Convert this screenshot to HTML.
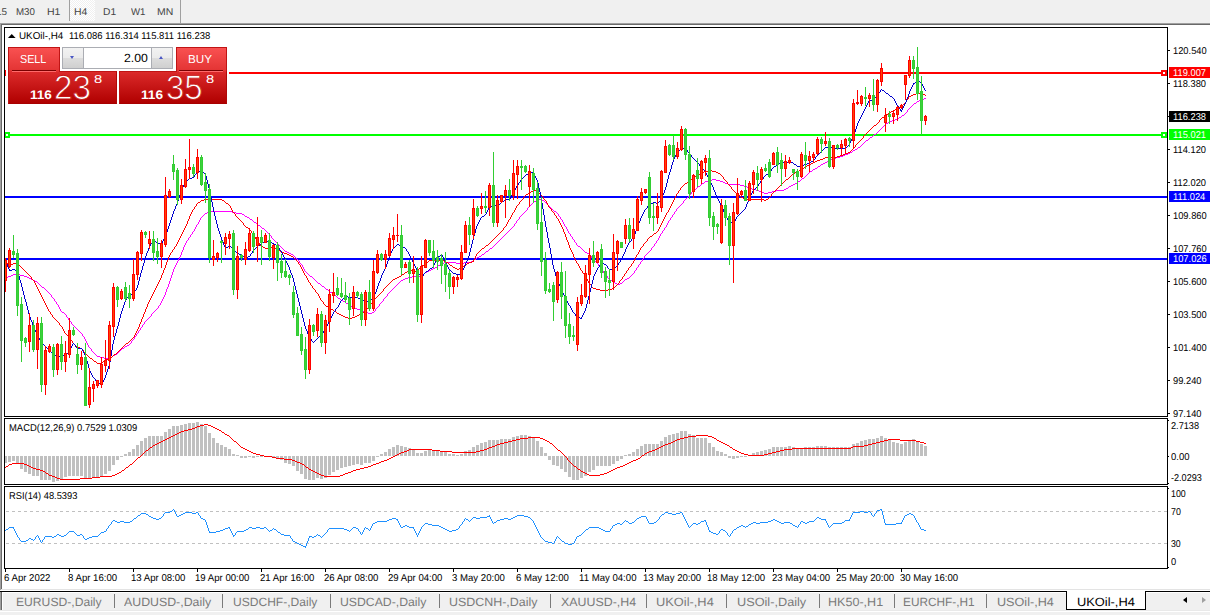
<!DOCTYPE html>
<html>
<head>
<meta charset="utf-8">
<title>UKOil-,H4</title>
<style>
html,body{margin:0;padding:0;}
body{width:1210px;height:615px;overflow:hidden;background:#f0f0f0;position:relative;font-family:"Liberation Sans", sans-serif;}
.abs{position:absolute;}
.t{position:absolute;white-space:nowrap;line-height:1;transform-origin:0 50%;text-rendering:geometricPrecision;}
#toolbar{left:0;top:0;width:1210px;height:23px;background:#f0f0f0;}
#tb-sep1{left:69px;top:0;width:1px;height:21px;background:#a0a0a0;}
#tb-h4{left:70px;top:0;width:25px;height:21px;background:conic-gradient(#ffffff 25%,#f0f0f0 0 50%,#ffffff 0 75%,#f0f0f0 0) 0 0/2px 2px;}
#tb-sep2{left:180px;top:0;width:1px;height:23px;background:#a0a0a0;}
#edge-t1{left:0;top:23px;width:1210px;height:1px;background:#a0a0a0;}
#edge-t2{left:1px;top:24px;width:1209px;height:1px;background:#696969;}
#edge-l1{left:0;top:23px;width:1px;height:567px;background:#a0a0a0;}
#edge-l2{left:1px;top:24px;width:1px;height:565px;background:#696969;}
#client{left:2px;top:25px;width:1208px;height:564px;background:#fff;}
#edge-b1{left:1px;top:589px;width:1209px;height:1px;background:#e3e3e3;}
#edge-b2{left:0;top:590px;width:1210px;height:1px;background:#fff;}
#tab-line-a{left:0;top:591px;width:1067px;height:1px;background:#000;}
#tab-line-b{left:1145px;top:591px;width:65px;height:1px;background:#000;}
#tabbar{left:0;top:592px;width:1210px;height:18px;background:#f0f0f0;}
#tab-l1{left:0;top:592px;width:1px;height:18px;background:#a0a0a0;}
#tab-l2{left:1px;top:592px;width:1px;height:18px;background:#696969;}
#tab-l3{left:2px;top:592px;width:1px;height:18px;background:#fff;}
#tab-t{left:2px;top:592px;width:1208px;height:1px;background:#fff;}
#tab-b1{left:0;top:610px;width:1210px;height:1px;background:#e9e9e9;}
#tab-b2{left:0;top:611px;width:1210px;height:1px;background:#fff;}
.tsep{position:absolute;top:594px;width:1px;height:14px;background:#7a7a7a;}
#tab-active{left:1066px;top:591px;width:78px;height:18px;background:#fff;border:1px solid #000;border-top:none;}
#arr-l{left:1183px;top:597px;width:0;height:0;border-top:3.5px solid transparent;border-bottom:3.5px solid transparent;border-right:4px solid #000;}
#arr-r{left:1202px;top:597px;width:0;height:0;border-top:3.5px solid transparent;border-bottom:3.5px solid transparent;border-left:4px solid #a0a0a0;}
svg{position:absolute;left:0;top:0;}
/* one click trading panel */
#panel-bg{left:6px;top:45px;width:223px;height:61px;background:#fff;}
.btn{position:absolute;box-sizing:border-box;border:1px solid #c01414;}
#sell-top{left:8px;top:47px;width:52px;height:25px;background:linear-gradient(#f95151,#e23232);border-bottom:none;}
#buy-top{left:176px;top:47px;width:51px;height:25px;background:linear-gradient(#f95151,#e23232);border-bottom:none;}
#sell-low{left:8px;top:71px;width:109px;height:33px;background:linear-gradient(#db2a2a,#b00000);border-color:#c01414 #b00808 #a80000 #c01414;}
#buy-low{left:119px;top:71px;width:108px;height:33px;background:linear-gradient(#db2a2a,#b00000);border-color:#c01414 #b00808 #a80000 #c01414;}
#sell-join{left:9px;top:71px;width:50px;height:1px;background:#e03030;}
#buy-join{left:177px;top:71px;width:49px;height:1px;background:#e03030;}
.uline{position:absolute;height:1px;background:#7a0000;}
.uline2{position:absolute;height:1px;background:#ff6a6a;}
#spin{left:62px;top:47px;width:111px;height:22px;box-sizing:border-box;border:1px solid #abadb3;background:#fff;}
.sbtn{position:absolute;top:48px;width:20px;height:20px;background:linear-gradient(#f2f2f2 0%,#ebebeb 48%,#dddddd 52%,#cfcfcf 100%);}
#sdn{left:63px;border-right:1px solid #abadb3;}
#sup{left:151px;border-left:1px solid #abadb3;}
#adn{left:70px;top:56px;width:0;height:0;border-left:2.5px solid transparent;border-right:2.5px solid transparent;border-top:3px solid #4a57c4;}
#aup{left:159px;top:56px;width:0;height:0;border-left:2.5px solid transparent;border-right:2.5px solid transparent;border-bottom:3px solid #4a57c4;}
</style>
</head>
<body>
<div id="toolbar" class="abs"></div>
<div id="tb-h4" class="abs"></div>
<div id="tb-sep1" class="abs"></div>
<div id="tb-sep2" class="abs"></div>
<div id="client" class="abs"></div>
<div id="edge-t1" class="abs"></div>
<div id="edge-t2" class="abs"></div>
<div id="edge-l1" class="abs"></div>
<div id="edge-l2" class="abs"></div>
<div id="edge-b1" class="abs"></div>
<div id="edge-b2" class="abs"></div>
<div id="tabbar" class="abs"></div>
<div id="tab-t" class="abs"></div>
<div id="tab-l1" class="abs"></div>
<div id="tab-l2" class="abs"></div>
<div id="tab-l3" class="abs"></div>
<div id="tab-b1" class="abs"></div>
<div id="tab-b2" class="abs"></div>
<div id="tab-line-a" class="abs"></div>
<div id="tab-line-b" class="abs"></div>
<div id="tab-active" class="abs"></div>
<div id="arr-l" class="abs"></div>
<div id="arr-r" class="abs"></div>
<div class="tsep" style="left:114px"></div><div class="tsep" style="left:222px"></div><div class="tsep" style="left:330px"></div><div class="tsep" style="left:439px"></div><div class="tsep" style="left:550px"></div><div class="tsep" style="left:646px"></div><div class="tsep" style="left:726px"></div><div class="tsep" style="left:819px"></div><div class="tsep" style="left:894px"></div><div class="tsep" style="left:986px"></div>
<svg width="1210" height="615" viewBox="0 0 1210 615" shape-rendering="crispEdges">
<rect x="5" y="72" width="1162" height="2" fill="#ff0000"/>
<rect x="5" y="134" width="1162" height="2" fill="#00ff00"/>
<rect x="5" y="196" width="1162" height="2" fill="#0000ff"/>
<rect x="5" y="258" width="1162" height="2" fill="#0000ff"/>
<rect x="1161" y="70" width="6" height="6" fill="#ff0000"/>
<rect x="1163" y="72" width="2" height="2" fill="#ffffff"/>
<rect x="1161" y="132" width="6" height="6" fill="#00ff00"/>
<rect x="1163" y="134" width="2" height="2" fill="#ffffff"/>
<rect x="4" y="132" width="6" height="6" fill="#00ff00"/>
<rect x="6" y="134" width="2" height="2" fill="#ffffff"/>
<rect x="4" y="70" width="2" height="6" fill="#ff0000"/>
<path d="M51.5 295v2M54.5 299v2M56.5 302v2M58.5 305v2M59.5 307v2M60.5 309v2M66.5 315v2M68.5 318v2M71.5 322v2M82.5 334v2M84.5 337v2M85.5 339v2M86.5 341v2M87.5 343v2M88.5 345v2M91.5 349v2M131.5 341v2M134.5 337v2M136.5 334v2M138.5 331v2M140.5 328v2M142.5 325v2M144.5 322v2M151.5 314v2M158.5 306v2M160.5 303v2M161.5 301v2M162.5 299v2M163.5 297v2M164.5 295v2M165.5 292v3M166.5 289v3M167.5 287v2M168.5 284v3M169.5 281v3M170.5 278v3M171.5 275v3M172.5 272v3M173.5 269v3M174.5 267v2M175.5 265v2M176.5 263v2M177.5 261v2M178.5 259v2M179.5 257v2M180.5 255v2M181.5 252v3M182.5 250v2M183.5 247v3M184.5 245v2M185.5 243v2M186.5 241v2M188.5 238v2M190.5 235v2M192.5 232v2M194.5 229v2M195.5 227v2M196.5 225v2M198.5 222v2M199.5 220v2M200.5 218v2M271.5 236v2M299.5 261v2M302.5 265v2M303.5 267v2M304.5 269v2M375.5 309v2M379.5 304v2M383.5 299v2M387.5 294v2M514.5 224v2M516.5 221v2M519.5 217v2M527.5 208v2M558.5 214v2M560.5 217v2M562.5 220v2M563.5 222v2M564.5 224v2M566.5 227v2M567.5 229v2M568.5 231v2M570.5 234v2M572.5 237v2M574.5 240v2M576.5 243v2M591.5 256v2M598.5 264v2M600.5 267v2M603.5 271v2M607.5 276v2M634.5 271v2M636.5 268v2M638.5 265v2M640.5 262v2M642.5 259v2M644.5 256v2M651.5 248v2M654.5 244v2M656.5 241v2M658.5 238v2M659.5 236v2M660.5 234v2M662.5 231v2M664.5 228v2M666.5 225v2M667.5 223v2M668.5 221v2M670.5 218v2M672.5 215v2M674.5 212v2M676.5 209v2M683.5 201v2M691.5 192v2M907.5 110v2M924 98.5h2M921 99.5h3M919 100.5h2M917 101.5h2M916 102.5h1M914 103.5h2M913 104.5h1M912 105.5h1M911 106.5h1M910 107.5h1M909 108.5h1M908 109.5h1M906 112.5h1M905 113.5h1M904 114.5h1M902 115.5h2M901 116.5h1M899 117.5h2M897 118.5h2M895 119.5h2M892 120.5h3M889 121.5h3M888 122.5h1M886 123.5h2M885 124.5h1M884 125.5h1M883 126.5h1M882 127.5h1M881 128.5h1M880 129.5h1M879 130.5h1M878 131.5h1M877 132.5h1M876 133.5h1M874 134.5h2M873 135.5h1M872 136.5h1M870 137.5h2M869 138.5h1M868 139.5h1M866 140.5h2M865 141.5h1M864 142.5h1M863 143.5h1M862 144.5h1M861 145.5h1M860 146.5h1M858 147.5h2M857 148.5h1M855 149.5h2M853 150.5h2M852 151.5h1M850 152.5h2M848 153.5h2M845 154.5h3M843 155.5h2M840 156.5h3M836 157.5h4M833 158.5h3M831 159.5h2M829 160.5h2M827 161.5h2M825 162.5h2M823 163.5h2M821 164.5h2M820 165.5h1M818 166.5h2M817 167.5h1M815 168.5h2M813 169.5h2M812 170.5h1M810 171.5h2M809 172.5h1M808 173.5h1M807 174.5h1M806 175.5h1M805 176.5h1M804 177.5h1M802 178.5h2M712 179.5h4M801 179.5h1M708 180.5h4M716 180.5h4M800 180.5h1M705 181.5h3M720 181.5h3M798 181.5h2M704 182.5h1M723 182.5h2M797 182.5h1M702 183.5h2M725 183.5h3M795 183.5h2M701 184.5h1M728 184.5h12M793 184.5h2M700 185.5h1M740 185.5h4M791 185.5h2M698 186.5h2M744 186.5h3M789 186.5h2M697 187.5h1M747 187.5h2M788 187.5h1M696 188.5h1M749 188.5h3M786 188.5h2M694 189.5h2M752 189.5h4M784 189.5h2M693 190.5h1M756 190.5h3M776 190.5h8M692 191.5h1M759 191.5h2M772 191.5h4M761 192.5h3M768 192.5h4M764 193.5h4M690 194.5h1M689 195.5h1M688 196.5h1M687 197.5h1M686 198.5h1M537 199.5h5M685 199.5h1M536 200.5h1M542 200.5h2M684 200.5h1M534 201.5h2M544 201.5h1M533 202.5h1M545 202.5h1M532 203.5h1M546 203.5h1M682 203.5h1M531 204.5h1M547 204.5h1M681 204.5h1M530 205.5h1M548 205.5h1M680 205.5h1M529 206.5h1M549 206.5h1M679 206.5h1M528 207.5h1M550 207.5h1M678 207.5h1M551 208.5h1M677 208.5h1M552 209.5h1M526 210.5h1M553 210.5h1M209 211.5h23M525 211.5h1M554 211.5h2M675 211.5h1M207 212.5h2M232 212.5h4M524 212.5h1M556 212.5h1M205 213.5h2M236 213.5h6M523 213.5h1M557 213.5h1M204 214.5h1M242 214.5h2M522 214.5h1M673 214.5h1M203 215.5h1M244 215.5h1M521 215.5h1M202 216.5h1M245 216.5h2M520 216.5h1M559 216.5h1M201 217.5h1M247 217.5h2M671 217.5h1M249 218.5h1M250 219.5h2M518 219.5h1M561 219.5h1M252 220.5h1M517 220.5h1M669 220.5h1M253 221.5h1M254 222.5h2M256 223.5h1M515 223.5h1M197 224.5h1M257 224.5h1M258 225.5h2M260 226.5h1M513 226.5h1M565 226.5h1M261 227.5h1M512 227.5h1M665 227.5h1M262 228.5h2M511 228.5h1M264 229.5h1M510 229.5h1M265 230.5h1M509 230.5h1M663 230.5h1M193 231.5h1M266 231.5h1M508 231.5h1M267 232.5h1M507 232.5h1M268 233.5h1M506 233.5h1M569 233.5h1M661 233.5h1M191 234.5h1M269 234.5h1M505 234.5h1M270 235.5h1M504 235.5h1M503 236.5h1M571 236.5h1M189 237.5h1M502 237.5h1M272 238.5h1M501 238.5h1M273 239.5h1M500 239.5h1M573 239.5h1M187 240.5h1M274 240.5h1M499 240.5h1M657 240.5h1M275 241.5h1M498 241.5h1M276 242.5h1M497 242.5h1M575 242.5h1M277 243.5h1M496 243.5h1M655 243.5h1M278 244.5h1M495 244.5h1M279 245.5h1M494 245.5h1M577 245.5h1M280 246.5h1M493 246.5h1M578 246.5h2M653 246.5h1M281 247.5h1M492 247.5h1M580 247.5h1M652 247.5h1M282 248.5h1M490 248.5h2M581 248.5h1M283 249.5h1M489 249.5h1M582 249.5h1M284 250.5h1M488 250.5h1M583 250.5h1M650 250.5h1M285 251.5h2M486 251.5h2M584 251.5h1M649 251.5h1M287 252.5h2M485 252.5h1M585 252.5h2M648 252.5h1M289 253.5h2M484 253.5h1M587 253.5h2M647 253.5h1M291 254.5h2M482 254.5h2M589 254.5h1M646 254.5h1M293 255.5h1M481 255.5h1M590 255.5h1M645 255.5h1M294 256.5h1M479 256.5h2M295 257.5h1M477 257.5h2M296 258.5h1M476 258.5h1M592 258.5h1M643 258.5h1M297 259.5h1M474 259.5h2M593 259.5h1M298 260.5h1M473 260.5h1M594 260.5h1M471 261.5h2M595 261.5h1M641 261.5h1M444 262.5h12M464 262.5h7M596 262.5h1M300 263.5h1M441 263.5h3M456 263.5h8M597 263.5h1M301 264.5h1M440 264.5h1M639 264.5h1M438 265.5h2M437 266.5h1M599 266.5h1M435 267.5h2M637 267.5h1M433 268.5h2M431 269.5h2M601 269.5h1M429 270.5h2M602 270.5h1M635 270.5h1M305 271.5h1M427 271.5h2M306 272.5h1M425 272.5h2M307 273.5h1M424 273.5h1M604 273.5h1M633 273.5h1M13 274.5h7M308 274.5h1M422 274.5h2M605 274.5h1M632 274.5h1M11 275.5h2M20 275.5h4M309 275.5h1M420 275.5h2M606 275.5h1M631 275.5h1M8 276.5h3M24 276.5h3M310 276.5h2M412 276.5h8M630 276.5h1M5 277.5h3M27 277.5h2M312 277.5h1M408 277.5h4M629 277.5h1M29 278.5h2M313 278.5h1M405 278.5h3M608 278.5h1M627 278.5h2M31 279.5h2M314 279.5h1M403 279.5h2M609 279.5h1M625 279.5h2M33 280.5h2M315 280.5h1M401 280.5h2M610 280.5h2M624 280.5h1M35 281.5h2M316 281.5h1M400 281.5h1M612 281.5h1M623 281.5h1M37 282.5h1M317 282.5h1M399 282.5h1M613 282.5h2M622 282.5h1M38 283.5h1M318 283.5h2M398 283.5h1M615 283.5h2M620 283.5h2M39 284.5h1M320 284.5h1M397 284.5h1M617 284.5h3M40 285.5h1M321 285.5h1M396 285.5h1M41 286.5h1M322 286.5h2M395 286.5h1M42 287.5h2M324 287.5h1M394 287.5h1M44 288.5h1M325 288.5h1M393 288.5h1M45 289.5h1M326 289.5h2M392 289.5h1M46 290.5h1M328 290.5h1M391 290.5h1M47 291.5h1M329 291.5h1M390 291.5h1M48 292.5h1M330 292.5h2M389 292.5h1M49 293.5h1M332 293.5h1M388 293.5h1M50 294.5h1M333 294.5h1M334 295.5h2M336 296.5h1M386 296.5h1M52 297.5h1M337 297.5h1M385 297.5h1M53 298.5h1M338 298.5h2M384 298.5h1M340 299.5h1M341 300.5h2M55 301.5h1M343 301.5h2M382 301.5h1M345 302.5h1M381 302.5h1M346 303.5h2M380 303.5h1M57 304.5h1M348 304.5h1M159 305.5h1M349 305.5h2M351 306.5h2M378 306.5h1M353 307.5h2M377 307.5h1M157 308.5h1M355 308.5h2M376 308.5h1M156 309.5h1M357 309.5h3M155 310.5h1M360 310.5h3M61 311.5h1M154 311.5h1M363 311.5h2M374 311.5h1M62 312.5h2M153 312.5h1M365 312.5h3M372 312.5h2M64 313.5h1M152 313.5h1M368 313.5h4M65 314.5h1M150 316.5h1M67 317.5h1M149 317.5h1M148 318.5h1M147 319.5h1M69 320.5h1M146 320.5h1M70 321.5h1M145 321.5h1M72 324.5h1M143 324.5h1M73 325.5h1M74 326.5h1M75 327.5h1M141 327.5h1M76 328.5h1M77 329.5h1M78 330.5h1M139 330.5h1M79 331.5h1M80 332.5h1M81 333.5h1M137 333.5h1M83 336.5h1M135 336.5h1M133 339.5h1M132 340.5h1M130 343.5h1M129 344.5h1M127 345.5h2M125 346.5h2M89 347.5h1M124 347.5h1M90 348.5h1M122 348.5h2M121 349.5h1M120 350.5h1M92 351.5h1M119 351.5h1M93 352.5h1M118 352.5h1M94 353.5h1M117 353.5h1M95 354.5h1M115 354.5h2M96 355.5h1M113 355.5h2M97 356.5h3M112 356.5h1M100 357.5h4M110 357.5h2M104 358.5h6" fill="none" stroke="#ff00ff" stroke-width="1"/>
<path d="M31.5 277v2M34.5 281v2M35.5 283v2M36.5 285v2M37.5 287v2M38.5 289v2M39.5 291v2M40.5 293v2M41.5 295v2M42.5 297v2M43.5 299v2M44.5 301v2M45.5 303v2M46.5 305v2M47.5 307v2M48.5 309v2M50.5 312v2M52.5 315v2M59.5 323v2M62.5 327v2M63.5 329v2M64.5 331v2M70.5 338v2M72.5 341v2M83.5 350v2M134.5 335v2M135.5 333v2M136.5 331v2M137.5 329v2M138.5 327v2M139.5 324v3M140.5 322v2M141.5 319v3M142.5 317v2M143.5 314v3M144.5 312v2M145.5 309v3M146.5 307v2M147.5 304v3M148.5 302v2M149.5 300v2M150.5 298v2M151.5 296v2M152.5 294v2M153.5 292v2M154.5 290v2M155.5 288v2M156.5 286v2M157.5 284v2M158.5 282v2M159.5 280v2M160.5 278v2M161.5 275v3M162.5 273v2M163.5 270v3M164.5 268v2M165.5 265v3M166.5 262v3M167.5 260v2M168.5 257v3M169.5 255v2M170.5 253v2M172.5 250v2M174.5 247v2M176.5 244v2M177.5 242v2M178.5 240v2M179.5 238v2M180.5 236v2M181.5 234v2M182.5 232v2M183.5 230v2M184.5 228v2M185.5 226v2M186.5 224v2M187.5 221v3M188.5 219v2M189.5 216v3M190.5 214v2M191.5 212v2M192.5 210v2M194.5 207v2M196.5 204v2M230.5 206v2M231.5 208v2M232.5 210v2M235.5 214v2M243.5 223v2M251.5 231v2M254.5 235v2M255.5 237v2M256.5 239v2M259.5 243v2M298.5 262v2M300.5 265v2M301.5 267v2M302.5 269v2M303.5 271v2M304.5 273v2M306.5 276v2M307.5 278v2M308.5 280v2M310.5 283v2M312.5 286v2M315.5 290v2M318.5 294v2M319.5 296v2M320.5 298v2M323.5 302v2M370.5 304v2M372.5 301v2M383.5 289v2M473.5 260v2M474.5 258v2M475.5 256v2M476.5 254v2M503.5 228v2M506.5 224v2M507.5 222v2M508.5 220v2M510.5 217v2M511.5 215v2M512.5 213v2M514.5 210v2M515.5 208v2M516.5 206v2M519.5 202v2M523.5 197v2M543.5 197v2M546.5 201v2M547.5 203v2M548.5 205v2M551.5 209v2M554.5 213v2M556.5 216v2M558.5 219v2M559.5 221v2M560.5 223v2M561.5 225v2M562.5 227v2M563.5 229v3M564.5 232v2M565.5 234v3M566.5 237v3M567.5 240v2M568.5 242v3M569.5 245v3M570.5 248v2M571.5 250v2M572.5 252v2M573.5 254v3M574.5 257v2M575.5 259v2M576.5 261v2M578.5 264v2M579.5 266v2M580.5 268v2M582.5 271v2M584.5 274v2M586.5 277v2M587.5 279v2M588.5 281v2M591.5 285v2M619.5 281v2M622.5 277v2M624.5 274v2M626.5 271v2M628.5 268v2M631.5 264v2M633.5 261v2M634.5 259v2M635.5 257v2M636.5 255v2M638.5 252v2M639.5 250v2M640.5 248v2M643.5 244v2M647.5 239v2M658.5 229v2M659.5 227v2M660.5 225v2M661.5 223v2M662.5 221v2M663.5 219v2M664.5 217v2M665.5 215v2M666.5 213v2M668.5 210v2M669.5 208v2M670.5 206v2M671.5 204v2M672.5 202v2M673.5 200v2M674.5 198v2M675.5 196v2M676.5 194v2M678.5 191v2M680.5 188v2M723.5 177v2M727.5 182v2M731.5 187v2M771.5 194v2M855.5 145v2M863.5 136v2M879.5 120v2M906.5 100v2M908.5 97v2M916 93.5h7M913 94.5h3M923 94.5h2M911 95.5h2M925 95.5h1M909 96.5h2M907 99.5h1M905 102.5h1M904 103.5h1M903 104.5h1M902 105.5h1M901 106.5h1M899 107.5h2M897 108.5h2M895 109.5h2M893 110.5h2M891 111.5h2M889 112.5h2M888 113.5h1M886 114.5h2M885 115.5h1M884 116.5h1M882 117.5h2M881 118.5h1M880 119.5h1M878 122.5h1M877 123.5h1M876 124.5h1M874 125.5h2M873 126.5h1M872 127.5h1M871 128.5h1M870 129.5h1M869 130.5h1M868 131.5h1M867 132.5h1M866 133.5h1M865 134.5h1M864 135.5h1M862 138.5h1M861 139.5h1M860 140.5h1M859 141.5h1M858 142.5h1M857 143.5h1M856 144.5h1M854 147.5h1M853 148.5h1M852 149.5h1M851 150.5h1M850 151.5h1M848 152.5h2M845 153.5h3M843 154.5h2M840 155.5h3M837 156.5h3M825 157.5h7M835 157.5h2M823 158.5h2M832 158.5h3M820 159.5h3M817 160.5h3M815 161.5h2M813 162.5h2M811 163.5h2M809 164.5h2M807 165.5h2M805 166.5h2M804 167.5h1M802 168.5h2M801 169.5h1M708 170.5h4M799 170.5h2M704 171.5h4M712 171.5h4M797 171.5h2M701 172.5h3M716 172.5h2M795 172.5h2M700 173.5h1M718 173.5h2M793 173.5h2M698 174.5h2M720 174.5h1M792 174.5h1M697 175.5h1M721 175.5h1M791 175.5h1M695 176.5h2M722 176.5h1M790 176.5h1M693 177.5h2M789 177.5h1M692 178.5h1M788 178.5h1M691 179.5h1M724 179.5h1M786 179.5h2M690 180.5h1M725 180.5h1M785 180.5h1M689 181.5h1M726 181.5h1M784 181.5h1M687 182.5h2M783 182.5h1M685 183.5h2M782 183.5h1M684 184.5h1M728 184.5h1M781 184.5h1M683 185.5h1M729 185.5h1M780 185.5h1M682 186.5h1M730 186.5h1M779 186.5h1M681 187.5h1M778 187.5h1M777 188.5h1M732 189.5h1M776 189.5h1M533 190.5h3M679 190.5h1M733 190.5h1M775 190.5h1M531 191.5h2M536 191.5h2M734 191.5h1M774 191.5h1M529 192.5h2M538 192.5h1M735 192.5h1M773 192.5h1M528 193.5h1M539 193.5h1M677 193.5h1M736 193.5h1M772 193.5h1M526 194.5h2M540 194.5h1M737 194.5h1M525 195.5h1M541 195.5h1M738 195.5h2M524 196.5h1M542 196.5h1M740 196.5h1M770 196.5h1M741 197.5h2M769 197.5h1M743 198.5h2M768 198.5h1M204 199.5h18M522 199.5h1M544 199.5h1M745 199.5h19M766 199.5h2M201 200.5h3M222 200.5h2M521 200.5h1M545 200.5h1M764 200.5h2M200 201.5h1M224 201.5h1M520 201.5h1M198 202.5h2M225 202.5h1M197 203.5h1M226 203.5h2M228 204.5h1M518 204.5h1M229 205.5h1M517 205.5h1M195 206.5h1M549 207.5h1M550 208.5h1M193 209.5h1M552 211.5h1M233 212.5h1M513 212.5h1M553 212.5h1M667 212.5h1M234 213.5h1M555 215.5h1M236 216.5h1M237 217.5h1M238 218.5h1M557 218.5h1M239 219.5h1M509 219.5h1M240 220.5h1M241 221.5h1M242 222.5h1M244 225.5h1M245 226.5h1M505 226.5h1M246 227.5h2M504 227.5h1M248 228.5h1M249 229.5h1M250 230.5h1M502 230.5h1M501 231.5h1M657 231.5h1M500 232.5h1M656 232.5h1M252 233.5h1M499 233.5h1M654 233.5h2M253 234.5h1M498 234.5h1M653 234.5h1M497 235.5h1M652 235.5h1M496 236.5h1M650 236.5h2M495 237.5h1M649 237.5h1M494 238.5h1M648 238.5h1M493 239.5h1M492 240.5h1M257 241.5h1M491 241.5h1M646 241.5h1M258 242.5h1M490 242.5h1M645 242.5h1M489 243.5h1M644 243.5h1M488 244.5h1M260 245.5h1M486 245.5h2M175 246.5h1M261 246.5h2M485 246.5h1M642 246.5h1M263 247.5h2M268 247.5h7M484 247.5h1M641 247.5h1M265 248.5h3M275 248.5h2M482 248.5h2M173 249.5h1M277 249.5h1M481 249.5h1M278 250.5h2M480 250.5h1M280 251.5h1M479 251.5h1M171 252.5h1M281 252.5h3M478 252.5h1M284 253.5h3M477 253.5h1M287 254.5h2M637 254.5h1M289 255.5h2M291 256.5h2M293 257.5h1M294 258.5h1M295 259.5h1M296 260.5h1M429 260.5h15M297 261.5h1M428 261.5h1M444 261.5h2M472 261.5h1M5 262.5h1M426 262.5h2M446 262.5h2M469 262.5h3M6 263.5h2M13 263.5h5M425 263.5h1M448 263.5h1M467 263.5h2M577 263.5h1M632 263.5h1M8 264.5h1M11 264.5h2M18 264.5h1M299 264.5h1M424 264.5h1M449 264.5h1M465 264.5h2M9 265.5h2M19 265.5h1M422 265.5h2M450 265.5h2M464 265.5h1M20 266.5h1M421 266.5h1M452 266.5h1M462 266.5h2M630 266.5h1M21 267.5h1M420 267.5h1M453 267.5h2M461 267.5h1M629 267.5h1M22 268.5h1M419 268.5h1M455 268.5h2M459 268.5h2M23 269.5h1M418 269.5h1M457 269.5h2M24 270.5h1M409 270.5h3M416 270.5h2M581 270.5h1M627 270.5h1M25 271.5h1M407 271.5h2M412 271.5h4M26 272.5h1M405 272.5h2M27 273.5h1M404 273.5h1M583 273.5h1M625 273.5h1M28 274.5h1M402 274.5h2M29 275.5h1M305 275.5h1M401 275.5h1M30 276.5h1M399 276.5h2M585 276.5h1M623 276.5h1M397 277.5h2M395 278.5h2M32 279.5h1M393 279.5h2M621 279.5h1M33 280.5h1M392 280.5h1M620 280.5h1M391 281.5h1M309 282.5h1M390 282.5h1M389 283.5h1M589 283.5h1M618 283.5h1M388 284.5h1M590 284.5h1M617 284.5h1M311 285.5h1M387 285.5h1M616 285.5h1M386 286.5h1M615 286.5h1M385 287.5h1M592 287.5h1M614 287.5h1M313 288.5h1M384 288.5h1M593 288.5h3M612 288.5h2M314 289.5h1M596 289.5h4M608 289.5h4M600 290.5h8M382 291.5h1M316 292.5h1M381 292.5h1M317 293.5h1M380 293.5h1M379 294.5h1M378 295.5h1M377 296.5h1M376 297.5h1M375 298.5h1M374 299.5h1M321 300.5h1M373 300.5h1M322 301.5h1M371 303.5h1M324 304.5h1M325 305.5h1M326 306.5h2M369 306.5h1M328 307.5h1M368 307.5h1M329 308.5h2M367 308.5h1M331 309.5h2M366 309.5h1M333 310.5h1M365 310.5h1M49 311.5h1M334 311.5h2M364 311.5h1M336 312.5h1M362 312.5h2M337 313.5h2M361 313.5h1M51 314.5h1M339 314.5h2M359 314.5h2M341 315.5h2M357 315.5h2M343 316.5h2M355 316.5h2M53 317.5h1M345 317.5h3M352 317.5h3M54 318.5h1M348 318.5h4M55 319.5h1M56 320.5h1M57 321.5h1M58 322.5h1M60 325.5h1M61 326.5h1M65 333.5h1M66 334.5h1M67 335.5h1M68 336.5h1M69 337.5h1M133 337.5h1M132 338.5h1M131 339.5h1M71 340.5h1M130 340.5h1M129 341.5h1M128 342.5h1M73 343.5h1M126 343.5h2M74 344.5h1M125 344.5h1M75 345.5h1M124 345.5h1M76 346.5h1M123 346.5h1M77 347.5h3M122 347.5h1M80 348.5h2M121 348.5h1M82 349.5h1M120 349.5h1M119 350.5h1M118 351.5h1M84 352.5h1M117 352.5h1M85 353.5h1M116 353.5h1M86 354.5h1M114 354.5h2M87 355.5h1M113 355.5h1M88 356.5h1M112 356.5h1M89 357.5h1M111 357.5h1M90 358.5h2M110 358.5h1M92 359.5h1M105 359.5h5M93 360.5h1M104 360.5h1M94 361.5h2M103 361.5h1M96 362.5h1M102 362.5h1M97 363.5h5" fill="none" stroke="#ff0000" stroke-width="1"/>
<path d="M5.5 260v2M6.5 262v2M7.5 264v3M8.5 267v2M9.5 269v2M17.5 271v2M18.5 273v3M19.5 276v4M20.5 280v3M21.5 283v4M22.5 287v4M23.5 291v4M24.5 295v4M25.5 299v3M26.5 302v4M27.5 306v4M28.5 310v4M29.5 314v3M30.5 317v3M31.5 320v2M32.5 322v3M33.5 325v3M34.5 328v2M35.5 330v2M36.5 332v2M37.5 334v2M38.5 336v2M39.5 338v2M40.5 340v2M41.5 342v2M69.5 350v2M70.5 348v2M71.5 346v2M72.5 344v2M75.5 345v2M82.5 349v2M83.5 351v2M84.5 353v2M85.5 355v2M86.5 357v4M87.5 361v3M88.5 364v4M89.5 368v3M90.5 371v2M91.5 373v2M92.5 375v2M95.5 379v2M101.5 384v2M102.5 382v2M103.5 380v2M104.5 378v2M105.5 375v3M106.5 372v3M107.5 369v3M108.5 366v3M109.5 362v4M110.5 356v6M111.5 350v6M112.5 344v6M113.5 340v4M114.5 336v4M115.5 333v3M116.5 329v4M117.5 326v3M118.5 322v4M119.5 318v4M120.5 314v4M121.5 311v3M122.5 308v3M123.5 305v3M124.5 302v3M125.5 300v2M126.5 298v2M128.5 295v2M134.5 291v2M136.5 288v2M137.5 285v3M138.5 281v4M139.5 277v4M140.5 273v4M141.5 270v3M142.5 266v4M143.5 263v3M144.5 259v4M145.5 256v3M146.5 253v3M147.5 251v2M148.5 248v3M149.5 246v2M150.5 244v2M152.5 241v2M162.5 241v2M163.5 239v2M164.5 237v2M165.5 235v2M166.5 232v3M167.5 229v3M168.5 226v3M169.5 223v3M170.5 220v3M171.5 217v3M172.5 214v3M173.5 211v3M174.5 209v2M175.5 206v3M176.5 204v2M177.5 201v3M178.5 198v3M179.5 195v3M180.5 192v3M181.5 189v3M182.5 187v2M183.5 185v2M184.5 183v2M194.5 175v2M196.5 172v2M205.5 174v2M206.5 176v4M207.5 180v4M208.5 184v4M209.5 188v4M210.5 192v5M211.5 197v5M212.5 202v5M213.5 207v5M214.5 212v4M215.5 216v4M216.5 220v4M217.5 224v4M218.5 228v3M219.5 231v3M220.5 234v3M221.5 237v3M222.5 240v2M223.5 242v3M224.5 245v2M225.5 247v2M250.5 254v2M252.5 251v2M279.5 248v2M281.5 251v2M282.5 253v2M283.5 255v2M284.5 257v2M285.5 259v2M286.5 261v2M287.5 263v2M288.5 265v2M289.5 267v3M290.5 270v3M291.5 273v2M292.5 275v3M293.5 278v4M294.5 282v4M295.5 286v4M296.5 290v4M297.5 294v4M298.5 298v4M299.5 302v4M300.5 306v4M301.5 310v4M302.5 314v4M303.5 318v4M304.5 322v4M305.5 326v3M306.5 329v2M307.5 331v3M308.5 334v2M309.5 336v2M311.5 339v2M323.5 331v2M325.5 328v2M326.5 326v2M327.5 324v2M328.5 322v2M329.5 320v2M330.5 318v2M331.5 316v2M332.5 314v2M333.5 312v2M335.5 309v2M338.5 305v2M339.5 303v2M340.5 301v2M373.5 297v2M374.5 294v3M375.5 292v2M376.5 289v3M377.5 286v3M378.5 283v3M379.5 281v2M380.5 278v3M381.5 275v3M382.5 273v2M383.5 271v2M384.5 269v2M385.5 267v2M386.5 264v3M387.5 261v3M388.5 258v3M389.5 255v3M390.5 253v2M391.5 251v2M392.5 249v2M406.5 249v2M408.5 252v2M409.5 254v2M410.5 256v2M411.5 258v2M412.5 260v2M413.5 262v2M414.5 264v2M415.5 266v2M416.5 268v2M417.5 270v2M418.5 272v2M420.5 275v2M423.5 274v2M433.5 265v2M434.5 263v2M435.5 261v2M436.5 259v2M437.5 257v2M442.5 255v2M443.5 257v2M444.5 259v2M445.5 261v2M446.5 263v2M447.5 265v2M448.5 267v2M461.5 272v2M462.5 270v2M463.5 268v2M464.5 266v2M465.5 263v3M466.5 261v2M467.5 258v3M468.5 256v2M469.5 252v4M470.5 248v4M471.5 244v4M472.5 240v4M473.5 236v4M474.5 233v3M475.5 229v4M476.5 226v3M477.5 224v2M478.5 222v2M479.5 220v2M480.5 218v2M486.5 212v2M487.5 210v2M488.5 208v2M510.5 197v2M511.5 195v2M512.5 193v2M514.5 190v2M515.5 188v2M516.5 186v2M518.5 183v2M520.5 180v2M533.5 172v2M534.5 174v2M535.5 176v2M536.5 178v2M537.5 180v3M538.5 183v5M539.5 188v4M540.5 192v5M541.5 197v6M542.5 203v6M543.5 209v6M544.5 215v6M545.5 221v6M546.5 227v5M547.5 232v6M548.5 238v5M549.5 243v5M550.5 248v6M551.5 254v5M552.5 259v6M553.5 265v4M554.5 269v3M555.5 272v4M556.5 276v3M557.5 279v3M558.5 282v2M559.5 284v2M560.5 286v2M561.5 288v3M562.5 291v2M563.5 293v2M564.5 295v2M565.5 297v2M566.5 299v2M567.5 301v2M568.5 303v2M570.5 306v2M571.5 308v2M572.5 310v2M575.5 314v2M581.5 317v2M582.5 315v2M583.5 313v2M584.5 311v2M585.5 308v3M586.5 304v4M587.5 300v4M588.5 296v4M589.5 292v4M590.5 288v4M591.5 284v4M592.5 280v4M593.5 276v4M594.5 274v2M595.5 272v2M596.5 270v2M597.5 268v2M599.5 265v2M607.5 266v2M618.5 263v2M620.5 260v2M621.5 258v2M622.5 256v2M623.5 254v2M624.5 252v2M625.5 249v3M626.5 247v2M627.5 245v2M628.5 243v2M631.5 239v2M633.5 236v2M634.5 234v2M635.5 231v3M636.5 229v2M637.5 226v3M638.5 223v3M639.5 221v2M640.5 218v3M641.5 216v2M642.5 214v2M643.5 212v2M644.5 210v2M647.5 206v2M661.5 198v2M662.5 195v3M663.5 193v2M664.5 190v3M665.5 187v3M666.5 183v4M667.5 179v4M668.5 175v4M669.5 172v3M670.5 169v3M671.5 165v4M672.5 162v3M673.5 159v3M674.5 157v2M675.5 155v2M676.5 153v2M687.5 150v2M691.5 155v2M699.5 164v2M705.5 171v2M706.5 173v2M707.5 175v2M708.5 177v2M709.5 179v2M710.5 181v2M711.5 183v2M712.5 185v2M713.5 187v3M714.5 190v2M715.5 192v3M716.5 195v2M717.5 197v2M718.5 199v2M719.5 201v2M720.5 203v2M721.5 205v2M722.5 207v2M723.5 209v3M724.5 212v2M725.5 214v2M726.5 216v2M727.5 218v2M728.5 220v2M734.5 221v2M735.5 219v2M736.5 217v2M745.5 207v2M746.5 204v3M747.5 202v2M748.5 199v3M749.5 197v2M750.5 195v2M751.5 193v2M752.5 191v2M758.5 184v2M760.5 181v2M763.5 177v2M771.5 169v2M815.5 157v2M849.5 143v2M850.5 141v2M851.5 139v2M852.5 137v2M853.5 135v2M854.5 132v3M855.5 129v3M856.5 126v3M857.5 123v3M858.5 121v2M859.5 119v2M860.5 117v2M861.5 115v2M862.5 113v2M863.5 111v2M864.5 109v2M865.5 107v2M866.5 105v2M867.5 103v2M868.5 101v2M878.5 93v2M880.5 90v2M894.5 99v2M895.5 101v2M896.5 103v2M898.5 106v2M900.5 109v2M901.5 110v2M902.5 108v2M903.5 106v2M904.5 104v2M905.5 102v2M906.5 99v3M907.5 97v2M908.5 94v3M909.5 91v3M910.5 89v2M911.5 87v2M912.5 85v2M913.5 83v2M921.5 82v2M922.5 84v2M923.5 86v2M924.5 88v2M917 81.5h3M915 82.5h2M920 82.5h1M914 83.5h1M881 89.5h1M882 90.5h2M925 90.5h1M884 91.5h1M879 92.5h1M885 92.5h1M886 93.5h2M888 94.5h1M877 95.5h1M889 95.5h1M876 96.5h1M890 96.5h2M875 97.5h1M892 97.5h1M874 98.5h1M893 98.5h1M872 99.5h2M869 100.5h3M897 105.5h1M899 108.5h1M848 145.5h1M847 146.5h1M825 147.5h7M846 147.5h1M681 148.5h5M824 148.5h1M832 148.5h14M680 149.5h1M686 149.5h1M823 149.5h1M679 150.5h1M822 150.5h1M678 151.5h1M821 151.5h1M677 152.5h1M688 152.5h1M820 152.5h1M689 153.5h1M819 153.5h1M690 154.5h1M818 154.5h1M817 155.5h1M816 156.5h1M692 157.5h1M693 158.5h1M694 159.5h1M814 159.5h1M695 160.5h1M813 160.5h1M696 161.5h1M788 161.5h3M811 161.5h2M697 162.5h1M781 162.5h7M791 162.5h2M809 162.5h2M698 163.5h1M779 163.5h2M793 163.5h1M807 163.5h2M777 164.5h2M794 164.5h2M804 164.5h3M776 165.5h1M796 165.5h1M800 165.5h4M700 166.5h1M774 166.5h2M797 166.5h3M701 167.5h1M773 167.5h1M702 168.5h1M772 168.5h1M703 169.5h1M200 170.5h2M704 170.5h1M197 171.5h3M202 171.5h1M770 171.5h1M203 172.5h1M529 172.5h4M769 172.5h1M204 173.5h1M528 173.5h1M768 173.5h1M195 174.5h1M526 174.5h2M766 174.5h2M525 175.5h1M765 175.5h1M524 176.5h1M764 176.5h1M192 177.5h2M523 177.5h1M189 178.5h3M522 178.5h1M188 179.5h1M521 179.5h1M762 179.5h1M187 180.5h1M761 180.5h1M186 181.5h1M185 182.5h1M519 182.5h1M759 183.5h1M517 185.5h1M757 186.5h1M756 187.5h1M755 188.5h1M754 189.5h1M753 190.5h1M513 192.5h1M505 199.5h5M504 200.5h1M660 200.5h1M502 201.5h2M659 201.5h1M501 202.5h1M653 202.5h3M658 202.5h1M500 203.5h1M651 203.5h2M656 203.5h2M498 204.5h2M649 204.5h2M493 205.5h5M648 205.5h1M491 206.5h2M489 207.5h2M646 208.5h1M645 209.5h1M744 209.5h1M743 210.5h1M742 211.5h1M741 212.5h1M740 213.5h1M485 214.5h1M739 214.5h1M484 215.5h1M738 215.5h1M482 216.5h2M737 216.5h1M481 217.5h1M729 222.5h3M732 223.5h2M632 238.5h1M153 240.5h1M265 240.5h2M154 241.5h2M264 241.5h1M267 241.5h2M630 241.5h1M156 242.5h1M262 242.5h2M269 242.5h3M629 242.5h1M151 243.5h1M157 243.5h5M261 243.5h1M272 243.5h2M260 244.5h1M274 244.5h2M397 244.5h2M229 245.5h1M258 245.5h2M276 245.5h1M396 245.5h1M399 245.5h2M228 246.5h1M230 246.5h1M257 246.5h1M277 246.5h1M395 246.5h1M401 246.5h2M226 247.5h2M231 247.5h1M256 247.5h1M278 247.5h1M394 247.5h1M403 247.5h2M232 248.5h1M255 248.5h1M393 248.5h1M405 248.5h1M233 249.5h1M254 249.5h1M234 250.5h1M253 250.5h1M280 250.5h1M235 251.5h1M407 251.5h1M236 252.5h1M237 253.5h2M251 253.5h1M239 254.5h2M441 254.5h1M241 255.5h2M440 255.5h1M243 256.5h2M248 256.5h2M438 256.5h2M245 257.5h3M619 262.5h1M601 263.5h3M600 264.5h1M604 264.5h2M606 265.5h1M617 265.5h1M616 266.5h1M432 267.5h1M598 267.5h1M614 267.5h2M430 268.5h2M608 268.5h1M612 268.5h2M12 269.5h3M429 269.5h1M449 269.5h1M609 269.5h3M10 270.5h2M15 270.5h2M428 270.5h1M450 270.5h1M426 271.5h2M451 271.5h1M425 272.5h1M452 272.5h1M424 273.5h1M453 273.5h3M460 273.5h1M419 274.5h1M456 274.5h4M422 276.5h1M421 277.5h1M135 290.5h1M132 293.5h2M129 294.5h3M345 296.5h3M127 297.5h1M344 297.5h1M348 297.5h10M343 298.5h1M358 298.5h2M342 299.5h1M360 299.5h1M371 299.5h2M341 300.5h1M361 300.5h3M368 300.5h3M364 301.5h4M569 305.5h1M337 307.5h1M336 308.5h1M334 311.5h1M573 312.5h1M574 313.5h1M576 316.5h1M577 317.5h3M580 318.5h1M324 330.5h1M322 333.5h1M321 334.5h1M320 335.5h1M319 336.5h1M318 337.5h1M310 338.5h1M317 338.5h1M316 339.5h1M315 340.5h1M312 341.5h1M314 341.5h1M313 342.5h1M73 343.5h1M42 344.5h2M74 344.5h1M44 345.5h1M45 346.5h1M46 347.5h1M76 347.5h1M47 348.5h1M77 348.5h5M48 349.5h1M49 350.5h1M50 351.5h1M51 352.5h1M68 352.5h1M52 353.5h1M66 353.5h2M53 354.5h2M65 354.5h1M55 355.5h2M63 355.5h2M57 356.5h6M93 377.5h1M94 378.5h1M96 381.5h1M97 382.5h1M98 383.5h2M100 384.5h1" fill="none" stroke="#0000cd" stroke-width="1"/>
<rect x="5" y="258" width="1" height="34" fill="#ff0000"/>
<rect x="4" y="260" width="3" height="21" fill="#ff0000"/>
<rect x="5" y="261" width="1" height="19" fill="#ff4500"/>
<rect x="9" y="248" width="1" height="20" fill="#ff0000"/>
<rect x="8" y="250" width="3" height="17" fill="#ff0000"/>
<rect x="9" y="251" width="1" height="15" fill="#ff4500"/>
<rect x="13" y="235" width="1" height="23" fill="#32cd32"/>
<rect x="12" y="251" width="3" height="4" fill="#32cd32"/>
<rect x="13" y="252" width="1" height="2" fill="#3cd23c"/>
<rect x="17" y="249" width="1" height="67" fill="#32cd32"/>
<rect x="16" y="253" width="3" height="53" fill="#32cd32"/>
<rect x="17" y="254" width="1" height="51" fill="#3cd23c"/>
<rect x="21" y="297" width="1" height="65" fill="#32cd32"/>
<rect x="20" y="304" width="3" height="37" fill="#32cd32"/>
<rect x="21" y="305" width="1" height="35" fill="#3cd23c"/>
<rect x="25" y="337" width="1" height="10" fill="#32cd32"/>
<rect x="24" y="338" width="3" height="5" fill="#32cd32"/>
<rect x="25" y="339" width="1" height="3" fill="#3cd23c"/>
<rect x="29" y="313" width="1" height="39" fill="#ff0000"/>
<rect x="28" y="325" width="3" height="17" fill="#ff0000"/>
<rect x="29" y="326" width="1" height="15" fill="#ff4500"/>
<rect x="33" y="320" width="1" height="32" fill="#32cd32"/>
<rect x="32" y="325" width="3" height="25" fill="#32cd32"/>
<rect x="33" y="326" width="1" height="23" fill="#3cd23c"/>
<rect x="37" y="317" width="1" height="52" fill="#ff0000"/>
<rect x="36" y="323" width="3" height="27" fill="#ff0000"/>
<rect x="37" y="324" width="1" height="25" fill="#ff4500"/>
<rect x="41" y="317" width="1" height="75" fill="#32cd32"/>
<rect x="40" y="323" width="3" height="62" fill="#32cd32"/>
<rect x="41" y="324" width="1" height="60" fill="#3cd23c"/>
<rect x="45" y="346" width="1" height="49" fill="#ff0000"/>
<rect x="44" y="350" width="3" height="35" fill="#ff0000"/>
<rect x="45" y="351" width="1" height="33" fill="#ff4500"/>
<rect x="49" y="344" width="1" height="9" fill="#ff0000"/>
<rect x="48" y="346" width="3" height="6" fill="#ff0000"/>
<rect x="49" y="347" width="1" height="4" fill="#ff4500"/>
<rect x="53" y="344" width="1" height="33" fill="#32cd32"/>
<rect x="52" y="347" width="3" height="23" fill="#32cd32"/>
<rect x="53" y="348" width="1" height="21" fill="#3cd23c"/>
<rect x="57" y="343" width="1" height="32" fill="#ff0000"/>
<rect x="56" y="344" width="3" height="26" fill="#ff0000"/>
<rect x="57" y="345" width="1" height="24" fill="#ff4500"/>
<rect x="61" y="336" width="1" height="34" fill="#32cd32"/>
<rect x="60" y="344" width="3" height="18" fill="#32cd32"/>
<rect x="61" y="345" width="1" height="16" fill="#3cd23c"/>
<rect x="65" y="341" width="1" height="31" fill="#ff0000"/>
<rect x="64" y="353" width="3" height="9" fill="#ff0000"/>
<rect x="65" y="354" width="1" height="7" fill="#ff4500"/>
<rect x="69" y="318" width="1" height="40" fill="#ff0000"/>
<rect x="68" y="330" width="3" height="25" fill="#ff0000"/>
<rect x="69" y="331" width="1" height="23" fill="#ff4500"/>
<rect x="73" y="327" width="1" height="9" fill="#32cd32"/>
<rect x="72" y="330" width="3" height="5" fill="#32cd32"/>
<rect x="73" y="331" width="1" height="3" fill="#3cd23c"/>
<rect x="77" y="343" width="1" height="31" fill="#32cd32"/>
<rect x="76" y="354" width="3" height="11" fill="#32cd32"/>
<rect x="77" y="355" width="1" height="9" fill="#3cd23c"/>
<rect x="81" y="351" width="1" height="19" fill="#ff0000"/>
<rect x="80" y="357" width="3" height="8" fill="#ff0000"/>
<rect x="81" y="358" width="1" height="6" fill="#ff4500"/>
<rect x="85" y="343" width="1" height="63" fill="#32cd32"/>
<rect x="84" y="357" width="3" height="49" fill="#32cd32"/>
<rect x="85" y="358" width="1" height="47" fill="#3cd23c"/>
<rect x="89" y="368" width="1" height="40" fill="#ff0000"/>
<rect x="88" y="387" width="3" height="18" fill="#ff0000"/>
<rect x="89" y="388" width="1" height="16" fill="#ff4500"/>
<rect x="93" y="381" width="1" height="21" fill="#ff0000"/>
<rect x="92" y="384" width="3" height="5" fill="#ff0000"/>
<rect x="93" y="385" width="1" height="3" fill="#ff4500"/>
<rect x="97" y="380" width="1" height="8" fill="#ff0000"/>
<rect x="96" y="380" width="3" height="6" fill="#ff0000"/>
<rect x="97" y="381" width="1" height="4" fill="#ff4500"/>
<rect x="101" y="357" width="1" height="31" fill="#ff0000"/>
<rect x="100" y="364" width="3" height="21" fill="#ff0000"/>
<rect x="101" y="365" width="1" height="19" fill="#ff4500"/>
<rect x="105" y="340" width="1" height="32" fill="#ff0000"/>
<rect x="104" y="360" width="3" height="6" fill="#ff0000"/>
<rect x="105" y="361" width="1" height="4" fill="#ff4500"/>
<rect x="109" y="321" width="1" height="48" fill="#ff0000"/>
<rect x="108" y="325" width="3" height="36" fill="#ff0000"/>
<rect x="109" y="326" width="1" height="34" fill="#ff4500"/>
<rect x="113" y="283" width="1" height="54" fill="#ff0000"/>
<rect x="112" y="287" width="3" height="40" fill="#ff0000"/>
<rect x="113" y="288" width="1" height="38" fill="#ff4500"/>
<rect x="117" y="286" width="1" height="21" fill="#32cd32"/>
<rect x="116" y="287" width="3" height="13" fill="#32cd32"/>
<rect x="117" y="288" width="1" height="11" fill="#3cd23c"/>
<rect x="121" y="289" width="1" height="11" fill="#ff0000"/>
<rect x="120" y="291" width="3" height="8" fill="#ff0000"/>
<rect x="121" y="292" width="1" height="6" fill="#ff4500"/>
<rect x="125" y="282" width="1" height="19" fill="#32cd32"/>
<rect x="124" y="287" width="3" height="12" fill="#32cd32"/>
<rect x="125" y="288" width="1" height="10" fill="#3cd23c"/>
<rect x="129" y="285" width="1" height="23" fill="#32cd32"/>
<rect x="128" y="293" width="3" height="6" fill="#32cd32"/>
<rect x="129" y="294" width="1" height="4" fill="#3cd23c"/>
<rect x="133" y="259" width="1" height="42" fill="#ff0000"/>
<rect x="132" y="274" width="3" height="25" fill="#ff0000"/>
<rect x="133" y="275" width="1" height="23" fill="#ff4500"/>
<rect x="137" y="251" width="1" height="29" fill="#ff0000"/>
<rect x="136" y="252" width="3" height="23" fill="#ff0000"/>
<rect x="137" y="253" width="1" height="21" fill="#ff4500"/>
<rect x="141" y="230" width="1" height="31" fill="#ff0000"/>
<rect x="140" y="232" width="3" height="22" fill="#ff0000"/>
<rect x="141" y="233" width="1" height="20" fill="#ff4500"/>
<rect x="145" y="231" width="1" height="7" fill="#32cd32"/>
<rect x="144" y="232" width="3" height="3" fill="#32cd32"/>
<rect x="145" y="233" width="1" height="1" fill="#3cd23c"/>
<rect x="149" y="231" width="1" height="18" fill="#ff0000"/>
<rect x="148" y="239" width="3" height="5" fill="#ff0000"/>
<rect x="149" y="240" width="1" height="3" fill="#ff4500"/>
<rect x="153" y="231" width="1" height="30" fill="#32cd32"/>
<rect x="152" y="239" width="3" height="14" fill="#32cd32"/>
<rect x="153" y="240" width="1" height="12" fill="#3cd23c"/>
<rect x="157" y="238" width="1" height="26" fill="#32cd32"/>
<rect x="156" y="251" width="3" height="6" fill="#32cd32"/>
<rect x="157" y="252" width="1" height="4" fill="#3cd23c"/>
<rect x="161" y="240" width="1" height="28" fill="#ff0000"/>
<rect x="160" y="243" width="3" height="14" fill="#ff0000"/>
<rect x="161" y="244" width="1" height="12" fill="#ff4500"/>
<rect x="165" y="177" width="1" height="70" fill="#ff0000"/>
<rect x="164" y="195" width="3" height="50" fill="#ff0000"/>
<rect x="165" y="196" width="1" height="48" fill="#ff4500"/>
<rect x="169" y="189" width="1" height="9" fill="#ff0000"/>
<rect x="168" y="191" width="3" height="6" fill="#ff0000"/>
<rect x="169" y="192" width="1" height="4" fill="#ff4500"/>
<rect x="173" y="155" width="1" height="25" fill="#32cd32"/>
<rect x="172" y="164" width="3" height="8" fill="#32cd32"/>
<rect x="173" y="165" width="1" height="6" fill="#3cd23c"/>
<rect x="177" y="168" width="1" height="37" fill="#32cd32"/>
<rect x="176" y="170" width="3" height="30" fill="#32cd32"/>
<rect x="177" y="171" width="1" height="28" fill="#3cd23c"/>
<rect x="181" y="179" width="1" height="25" fill="#ff0000"/>
<rect x="180" y="185" width="3" height="15" fill="#ff0000"/>
<rect x="181" y="186" width="1" height="13" fill="#ff4500"/>
<rect x="185" y="159" width="1" height="29" fill="#ff0000"/>
<rect x="184" y="169" width="3" height="18" fill="#ff0000"/>
<rect x="185" y="170" width="1" height="16" fill="#ff4500"/>
<rect x="189" y="139" width="1" height="40" fill="#ff0000"/>
<rect x="188" y="167" width="3" height="3" fill="#ff0000"/>
<rect x="189" y="168" width="1" height="1" fill="#ff4500"/>
<rect x="193" y="164" width="1" height="13" fill="#32cd32"/>
<rect x="192" y="167" width="3" height="7" fill="#32cd32"/>
<rect x="193" y="168" width="1" height="5" fill="#3cd23c"/>
<rect x="197" y="149" width="1" height="30" fill="#ff0000"/>
<rect x="196" y="157" width="3" height="16" fill="#ff0000"/>
<rect x="197" y="158" width="1" height="14" fill="#ff4500"/>
<rect x="201" y="155" width="1" height="31" fill="#32cd32"/>
<rect x="200" y="157" width="3" height="28" fill="#32cd32"/>
<rect x="201" y="158" width="1" height="26" fill="#3cd23c"/>
<rect x="205" y="173" width="1" height="30" fill="#32cd32"/>
<rect x="204" y="182" width="3" height="9" fill="#32cd32"/>
<rect x="205" y="183" width="1" height="7" fill="#3cd23c"/>
<rect x="209" y="184" width="1" height="79" fill="#32cd32"/>
<rect x="208" y="189" width="3" height="69" fill="#32cd32"/>
<rect x="209" y="190" width="1" height="67" fill="#3cd23c"/>
<rect x="213" y="240" width="1" height="26" fill="#ff0000"/>
<rect x="212" y="256" width="3" height="4" fill="#ff0000"/>
<rect x="213" y="257" width="1" height="2" fill="#ff4500"/>
<rect x="217" y="252" width="1" height="10" fill="#ff0000"/>
<rect x="216" y="253" width="3" height="5" fill="#ff0000"/>
<rect x="217" y="254" width="1" height="3" fill="#ff4500"/>
<rect x="221" y="240" width="1" height="23" fill="#32cd32"/>
<rect x="220" y="241" width="3" height="2" fill="#32cd32"/>
<rect x="225" y="233" width="1" height="22" fill="#ff0000"/>
<rect x="224" y="237" width="3" height="7" fill="#ff0000"/>
<rect x="225" y="238" width="1" height="5" fill="#ff4500"/>
<rect x="229" y="231" width="1" height="18" fill="#ff0000"/>
<rect x="228" y="234" width="3" height="5" fill="#ff0000"/>
<rect x="229" y="235" width="1" height="3" fill="#ff4500"/>
<rect x="233" y="230" width="1" height="65" fill="#32cd32"/>
<rect x="232" y="233" width="3" height="57" fill="#32cd32"/>
<rect x="233" y="234" width="1" height="55" fill="#3cd23c"/>
<rect x="237" y="246" width="1" height="53" fill="#ff0000"/>
<rect x="236" y="256" width="3" height="34" fill="#ff0000"/>
<rect x="237" y="257" width="1" height="32" fill="#ff4500"/>
<rect x="241" y="254" width="1" height="7" fill="#32cd32"/>
<rect x="240" y="255" width="3" height="3" fill="#32cd32"/>
<rect x="241" y="256" width="1" height="1" fill="#3cd23c"/>
<rect x="245" y="242" width="1" height="23" fill="#ff0000"/>
<rect x="244" y="249" width="3" height="11" fill="#ff0000"/>
<rect x="245" y="250" width="1" height="9" fill="#ff4500"/>
<rect x="249" y="228" width="1" height="24" fill="#ff0000"/>
<rect x="248" y="233" width="3" height="18" fill="#ff0000"/>
<rect x="249" y="234" width="1" height="16" fill="#ff4500"/>
<rect x="253" y="231" width="1" height="22" fill="#32cd32"/>
<rect x="252" y="233" width="3" height="14" fill="#32cd32"/>
<rect x="253" y="234" width="1" height="12" fill="#3cd23c"/>
<rect x="257" y="217" width="1" height="45" fill="#ff0000"/>
<rect x="256" y="237" width="3" height="9" fill="#ff0000"/>
<rect x="257" y="238" width="1" height="7" fill="#ff4500"/>
<rect x="261" y="230" width="1" height="35" fill="#32cd32"/>
<rect x="260" y="237" width="3" height="6" fill="#32cd32"/>
<rect x="261" y="238" width="1" height="4" fill="#3cd23c"/>
<rect x="265" y="233" width="1" height="10" fill="#ff0000"/>
<rect x="264" y="235" width="3" height="8" fill="#ff0000"/>
<rect x="265" y="236" width="1" height="6" fill="#ff4500"/>
<rect x="269" y="233" width="1" height="28" fill="#32cd32"/>
<rect x="268" y="240" width="3" height="17" fill="#32cd32"/>
<rect x="269" y="241" width="1" height="15" fill="#3cd23c"/>
<rect x="273" y="244" width="1" height="25" fill="#ff0000"/>
<rect x="272" y="245" width="3" height="13" fill="#ff0000"/>
<rect x="273" y="246" width="1" height="11" fill="#ff4500"/>
<rect x="277" y="242" width="1" height="39" fill="#32cd32"/>
<rect x="276" y="245" width="3" height="18" fill="#32cd32"/>
<rect x="277" y="246" width="1" height="16" fill="#3cd23c"/>
<rect x="281" y="254" width="1" height="24" fill="#32cd32"/>
<rect x="280" y="261" width="3" height="12" fill="#32cd32"/>
<rect x="281" y="262" width="1" height="10" fill="#3cd23c"/>
<rect x="285" y="259" width="1" height="19" fill="#32cd32"/>
<rect x="284" y="271" width="3" height="6" fill="#32cd32"/>
<rect x="285" y="272" width="1" height="4" fill="#3cd23c"/>
<rect x="289" y="274" width="1" height="11" fill="#32cd32"/>
<rect x="288" y="275" width="3" height="3" fill="#32cd32"/>
<rect x="289" y="276" width="1" height="1" fill="#3cd23c"/>
<rect x="293" y="286" width="1" height="32" fill="#32cd32"/>
<rect x="292" y="292" width="3" height="23" fill="#32cd32"/>
<rect x="293" y="293" width="1" height="21" fill="#3cd23c"/>
<rect x="297" y="307" width="1" height="29" fill="#32cd32"/>
<rect x="296" y="313" width="3" height="23" fill="#32cd32"/>
<rect x="297" y="314" width="1" height="21" fill="#3cd23c"/>
<rect x="301" y="327" width="1" height="28" fill="#32cd32"/>
<rect x="300" y="334" width="3" height="17" fill="#32cd32"/>
<rect x="301" y="335" width="1" height="15" fill="#3cd23c"/>
<rect x="305" y="337" width="1" height="42" fill="#32cd32"/>
<rect x="304" y="349" width="3" height="21" fill="#32cd32"/>
<rect x="305" y="350" width="1" height="19" fill="#3cd23c"/>
<rect x="309" y="319" width="1" height="55" fill="#ff0000"/>
<rect x="308" y="325" width="3" height="45" fill="#ff0000"/>
<rect x="309" y="326" width="1" height="43" fill="#ff4500"/>
<rect x="313" y="324" width="1" height="12" fill="#32cd32"/>
<rect x="312" y="325" width="3" height="7" fill="#32cd32"/>
<rect x="313" y="326" width="1" height="5" fill="#3cd23c"/>
<rect x="317" y="308" width="1" height="29" fill="#ff0000"/>
<rect x="316" y="314" width="3" height="17" fill="#ff0000"/>
<rect x="317" y="315" width="1" height="15" fill="#ff4500"/>
<rect x="321" y="311" width="1" height="36" fill="#32cd32"/>
<rect x="320" y="314" width="3" height="29" fill="#32cd32"/>
<rect x="321" y="315" width="1" height="27" fill="#3cd23c"/>
<rect x="325" y="315" width="1" height="39" fill="#ff0000"/>
<rect x="324" y="320" width="3" height="23" fill="#ff0000"/>
<rect x="325" y="321" width="1" height="21" fill="#ff4500"/>
<rect x="329" y="289" width="1" height="43" fill="#ff0000"/>
<rect x="328" y="294" width="3" height="28" fill="#ff0000"/>
<rect x="329" y="295" width="1" height="26" fill="#ff4500"/>
<rect x="333" y="273" width="1" height="30" fill="#ff0000"/>
<rect x="332" y="292" width="3" height="4" fill="#ff0000"/>
<rect x="333" y="293" width="1" height="2" fill="#ff4500"/>
<rect x="337" y="277" width="1" height="19" fill="#32cd32"/>
<rect x="336" y="288" width="3" height="7" fill="#32cd32"/>
<rect x="337" y="289" width="1" height="5" fill="#3cd23c"/>
<rect x="341" y="278" width="1" height="20" fill="#32cd32"/>
<rect x="340" y="293" width="3" height="4" fill="#32cd32"/>
<rect x="341" y="294" width="1" height="2" fill="#3cd23c"/>
<rect x="345" y="282" width="1" height="21" fill="#32cd32"/>
<rect x="344" y="295" width="3" height="5" fill="#32cd32"/>
<rect x="345" y="296" width="1" height="3" fill="#3cd23c"/>
<rect x="349" y="293" width="1" height="32" fill="#32cd32"/>
<rect x="348" y="298" width="3" height="12" fill="#32cd32"/>
<rect x="349" y="299" width="1" height="10" fill="#3cd23c"/>
<rect x="353" y="286" width="1" height="30" fill="#ff0000"/>
<rect x="352" y="292" width="3" height="17" fill="#ff0000"/>
<rect x="353" y="293" width="1" height="15" fill="#ff4500"/>
<rect x="357" y="291" width="1" height="7" fill="#32cd32"/>
<rect x="356" y="292" width="3" height="4" fill="#32cd32"/>
<rect x="357" y="293" width="1" height="2" fill="#3cd23c"/>
<rect x="361" y="292" width="1" height="34" fill="#32cd32"/>
<rect x="360" y="294" width="3" height="26" fill="#32cd32"/>
<rect x="361" y="295" width="1" height="24" fill="#3cd23c"/>
<rect x="365" y="290" width="1" height="36" fill="#ff0000"/>
<rect x="364" y="292" width="3" height="28" fill="#ff0000"/>
<rect x="365" y="293" width="1" height="26" fill="#ff4500"/>
<rect x="369" y="280" width="1" height="31" fill="#32cd32"/>
<rect x="368" y="292" width="3" height="17" fill="#32cd32"/>
<rect x="369" y="293" width="1" height="15" fill="#3cd23c"/>
<rect x="373" y="260" width="1" height="51" fill="#ff0000"/>
<rect x="372" y="271" width="3" height="38" fill="#ff0000"/>
<rect x="373" y="272" width="1" height="36" fill="#ff4500"/>
<rect x="377" y="250" width="1" height="24" fill="#ff0000"/>
<rect x="376" y="254" width="3" height="19" fill="#ff0000"/>
<rect x="377" y="255" width="1" height="17" fill="#ff4500"/>
<rect x="381" y="253" width="1" height="8" fill="#32cd32"/>
<rect x="380" y="254" width="3" height="6" fill="#32cd32"/>
<rect x="381" y="255" width="1" height="4" fill="#3cd23c"/>
<rect x="385" y="250" width="1" height="19" fill="#ff0000"/>
<rect x="384" y="254" width="3" height="6" fill="#ff0000"/>
<rect x="385" y="255" width="1" height="4" fill="#ff4500"/>
<rect x="389" y="233" width="1" height="24" fill="#ff0000"/>
<rect x="388" y="238" width="3" height="18" fill="#ff0000"/>
<rect x="389" y="239" width="1" height="16" fill="#ff4500"/>
<rect x="393" y="227" width="1" height="22" fill="#ff0000"/>
<rect x="392" y="235" width="3" height="5" fill="#ff0000"/>
<rect x="393" y="236" width="1" height="3" fill="#ff4500"/>
<rect x="397" y="214" width="1" height="28" fill="#ff0000"/>
<rect x="396" y="235" width="3" height="1" fill="#ff0000"/>
<rect x="401" y="225" width="1" height="50" fill="#32cd32"/>
<rect x="400" y="235" width="3" height="33" fill="#32cd32"/>
<rect x="401" y="236" width="1" height="31" fill="#3cd23c"/>
<rect x="405" y="262" width="1" height="6" fill="#ff0000"/>
<rect x="404" y="264" width="3" height="4" fill="#ff0000"/>
<rect x="405" y="265" width="1" height="2" fill="#ff4500"/>
<rect x="409" y="260" width="1" height="23" fill="#32cd32"/>
<rect x="408" y="262" width="3" height="12" fill="#32cd32"/>
<rect x="409" y="263" width="1" height="10" fill="#3cd23c"/>
<rect x="413" y="256" width="1" height="27" fill="#ff0000"/>
<rect x="412" y="269" width="3" height="5" fill="#ff0000"/>
<rect x="413" y="270" width="1" height="3" fill="#ff4500"/>
<rect x="417" y="267" width="1" height="55" fill="#32cd32"/>
<rect x="416" y="270" width="3" height="45" fill="#32cd32"/>
<rect x="417" y="271" width="1" height="43" fill="#3cd23c"/>
<rect x="421" y="256" width="1" height="67" fill="#ff0000"/>
<rect x="420" y="266" width="3" height="49" fill="#ff0000"/>
<rect x="421" y="267" width="1" height="47" fill="#ff4500"/>
<rect x="425" y="239" width="1" height="29" fill="#ff0000"/>
<rect x="424" y="240" width="3" height="28" fill="#ff0000"/>
<rect x="425" y="241" width="1" height="26" fill="#ff4500"/>
<rect x="429" y="240" width="1" height="16" fill="#32cd32"/>
<rect x="428" y="240" width="3" height="13" fill="#32cd32"/>
<rect x="429" y="241" width="1" height="11" fill="#3cd23c"/>
<rect x="433" y="240" width="1" height="28" fill="#32cd32"/>
<rect x="432" y="251" width="3" height="10" fill="#32cd32"/>
<rect x="433" y="252" width="1" height="8" fill="#3cd23c"/>
<rect x="437" y="250" width="1" height="20" fill="#32cd32"/>
<rect x="436" y="257" width="3" height="5" fill="#32cd32"/>
<rect x="437" y="258" width="1" height="3" fill="#3cd23c"/>
<rect x="441" y="254" width="1" height="30" fill="#32cd32"/>
<rect x="440" y="258" width="3" height="8" fill="#32cd32"/>
<rect x="441" y="259" width="1" height="6" fill="#3cd23c"/>
<rect x="445" y="252" width="1" height="40" fill="#32cd32"/>
<rect x="444" y="264" width="3" height="11" fill="#32cd32"/>
<rect x="445" y="265" width="1" height="9" fill="#3cd23c"/>
<rect x="449" y="270" width="1" height="29" fill="#32cd32"/>
<rect x="448" y="273" width="3" height="14" fill="#32cd32"/>
<rect x="449" y="274" width="1" height="12" fill="#3cd23c"/>
<rect x="453" y="276" width="1" height="18" fill="#ff0000"/>
<rect x="452" y="277" width="3" height="10" fill="#ff0000"/>
<rect x="453" y="278" width="1" height="8" fill="#ff4500"/>
<rect x="457" y="275" width="1" height="12" fill="#ff0000"/>
<rect x="456" y="277" width="3" height="3" fill="#ff0000"/>
<rect x="457" y="278" width="1" height="1" fill="#ff4500"/>
<rect x="461" y="245" width="1" height="35" fill="#ff0000"/>
<rect x="460" y="252" width="3" height="27" fill="#ff0000"/>
<rect x="461" y="253" width="1" height="25" fill="#ff4500"/>
<rect x="465" y="221" width="1" height="32" fill="#ff0000"/>
<rect x="464" y="225" width="3" height="28" fill="#ff0000"/>
<rect x="465" y="226" width="1" height="26" fill="#ff4500"/>
<rect x="469" y="217" width="1" height="28" fill="#32cd32"/>
<rect x="468" y="225" width="3" height="10" fill="#32cd32"/>
<rect x="469" y="226" width="1" height="8" fill="#3cd23c"/>
<rect x="473" y="199" width="1" height="40" fill="#ff0000"/>
<rect x="472" y="208" width="3" height="27" fill="#ff0000"/>
<rect x="473" y="209" width="1" height="25" fill="#ff4500"/>
<rect x="477" y="206" width="1" height="11" fill="#32cd32"/>
<rect x="476" y="208" width="3" height="8" fill="#32cd32"/>
<rect x="477" y="209" width="1" height="6" fill="#3cd23c"/>
<rect x="481" y="193" width="1" height="21" fill="#ff0000"/>
<rect x="480" y="206" width="3" height="3" fill="#ff0000"/>
<rect x="481" y="207" width="1" height="1" fill="#ff4500"/>
<rect x="485" y="191" width="1" height="22" fill="#32cd32"/>
<rect x="484" y="206" width="3" height="2" fill="#32cd32"/>
<rect x="489" y="183" width="1" height="33" fill="#ff0000"/>
<rect x="488" y="185" width="3" height="23" fill="#ff0000"/>
<rect x="489" y="186" width="1" height="21" fill="#ff4500"/>
<rect x="493" y="152" width="1" height="75" fill="#32cd32"/>
<rect x="492" y="185" width="3" height="38" fill="#32cd32"/>
<rect x="493" y="186" width="1" height="36" fill="#3cd23c"/>
<rect x="497" y="195" width="1" height="32" fill="#ff0000"/>
<rect x="496" y="200" width="3" height="23" fill="#ff0000"/>
<rect x="497" y="201" width="1" height="21" fill="#ff4500"/>
<rect x="501" y="195" width="1" height="8" fill="#ff0000"/>
<rect x="500" y="195" width="3" height="7" fill="#ff0000"/>
<rect x="501" y="196" width="1" height="5" fill="#ff4500"/>
<rect x="505" y="185" width="1" height="33" fill="#ff0000"/>
<rect x="504" y="190" width="3" height="6" fill="#ff0000"/>
<rect x="505" y="191" width="1" height="4" fill="#ff4500"/>
<rect x="509" y="179" width="1" height="22" fill="#32cd32"/>
<rect x="508" y="190" width="3" height="6" fill="#32cd32"/>
<rect x="509" y="191" width="1" height="4" fill="#3cd23c"/>
<rect x="513" y="160" width="1" height="40" fill="#ff0000"/>
<rect x="512" y="173" width="3" height="23" fill="#ff0000"/>
<rect x="513" y="174" width="1" height="21" fill="#ff4500"/>
<rect x="517" y="160" width="1" height="39" fill="#ff0000"/>
<rect x="516" y="166" width="3" height="9" fill="#ff0000"/>
<rect x="517" y="167" width="1" height="7" fill="#ff4500"/>
<rect x="521" y="160" width="1" height="30" fill="#32cd32"/>
<rect x="520" y="166" width="3" height="2" fill="#32cd32"/>
<rect x="525" y="165" width="1" height="8" fill="#32cd32"/>
<rect x="524" y="166" width="3" height="6" fill="#32cd32"/>
<rect x="525" y="167" width="1" height="4" fill="#3cd23c"/>
<rect x="529" y="165" width="1" height="42" fill="#ff0000"/>
<rect x="528" y="171" width="3" height="16" fill="#ff0000"/>
<rect x="529" y="172" width="1" height="14" fill="#ff4500"/>
<rect x="533" y="168" width="1" height="35" fill="#32cd32"/>
<rect x="532" y="173" width="3" height="17" fill="#32cd32"/>
<rect x="533" y="174" width="1" height="15" fill="#3cd23c"/>
<rect x="537" y="182" width="1" height="48" fill="#32cd32"/>
<rect x="536" y="188" width="3" height="36" fill="#32cd32"/>
<rect x="537" y="189" width="1" height="34" fill="#3cd23c"/>
<rect x="541" y="197" width="1" height="79" fill="#32cd32"/>
<rect x="540" y="222" width="3" height="40" fill="#32cd32"/>
<rect x="541" y="223" width="1" height="38" fill="#3cd23c"/>
<rect x="545" y="252" width="1" height="42" fill="#32cd32"/>
<rect x="544" y="260" width="3" height="31" fill="#32cd32"/>
<rect x="545" y="261" width="1" height="29" fill="#3cd23c"/>
<rect x="549" y="283" width="1" height="10" fill="#32cd32"/>
<rect x="548" y="289" width="3" height="3" fill="#32cd32"/>
<rect x="549" y="290" width="1" height="1" fill="#3cd23c"/>
<rect x="553" y="282" width="1" height="39" fill="#32cd32"/>
<rect x="552" y="285" width="3" height="17" fill="#32cd32"/>
<rect x="553" y="286" width="1" height="15" fill="#3cd23c"/>
<rect x="557" y="271" width="1" height="32" fill="#ff0000"/>
<rect x="556" y="272" width="3" height="28" fill="#ff0000"/>
<rect x="557" y="273" width="1" height="26" fill="#ff4500"/>
<rect x="561" y="262" width="1" height="57" fill="#32cd32"/>
<rect x="560" y="272" width="3" height="25" fill="#32cd32"/>
<rect x="561" y="273" width="1" height="23" fill="#3cd23c"/>
<rect x="565" y="271" width="1" height="67" fill="#32cd32"/>
<rect x="564" y="296" width="3" height="30" fill="#32cd32"/>
<rect x="565" y="297" width="1" height="28" fill="#3cd23c"/>
<rect x="569" y="313" width="1" height="31" fill="#32cd32"/>
<rect x="568" y="324" width="3" height="13" fill="#32cd32"/>
<rect x="569" y="325" width="1" height="11" fill="#3cd23c"/>
<rect x="573" y="326" width="1" height="15" fill="#32cd32"/>
<rect x="572" y="335" width="3" height="2" fill="#32cd32"/>
<rect x="577" y="297" width="1" height="54" fill="#ff0000"/>
<rect x="576" y="302" width="3" height="43" fill="#ff0000"/>
<rect x="577" y="303" width="1" height="41" fill="#ff4500"/>
<rect x="581" y="284" width="1" height="22" fill="#ff0000"/>
<rect x="580" y="295" width="3" height="9" fill="#ff0000"/>
<rect x="581" y="296" width="1" height="7" fill="#ff4500"/>
<rect x="585" y="265" width="1" height="33" fill="#ff0000"/>
<rect x="584" y="273" width="3" height="24" fill="#ff0000"/>
<rect x="585" y="274" width="1" height="22" fill="#ff4500"/>
<rect x="589" y="248" width="1" height="56" fill="#ff0000"/>
<rect x="588" y="255" width="3" height="20" fill="#ff0000"/>
<rect x="589" y="256" width="1" height="18" fill="#ff4500"/>
<rect x="593" y="241" width="1" height="26" fill="#32cd32"/>
<rect x="592" y="255" width="3" height="8" fill="#32cd32"/>
<rect x="593" y="256" width="1" height="6" fill="#3cd23c"/>
<rect x="597" y="251" width="1" height="12" fill="#ff0000"/>
<rect x="596" y="252" width="3" height="11" fill="#ff0000"/>
<rect x="597" y="253" width="1" height="9" fill="#ff4500"/>
<rect x="601" y="244" width="1" height="34" fill="#32cd32"/>
<rect x="600" y="249" width="3" height="24" fill="#32cd32"/>
<rect x="601" y="250" width="1" height="22" fill="#3cd23c"/>
<rect x="605" y="267" width="1" height="31" fill="#32cd32"/>
<rect x="604" y="271" width="3" height="11" fill="#32cd32"/>
<rect x="605" y="272" width="1" height="9" fill="#3cd23c"/>
<rect x="609" y="269" width="1" height="27" fill="#32cd32"/>
<rect x="608" y="280" width="3" height="3" fill="#32cd32"/>
<rect x="609" y="281" width="1" height="1" fill="#3cd23c"/>
<rect x="613" y="234" width="1" height="56" fill="#ff0000"/>
<rect x="612" y="252" width="3" height="30" fill="#ff0000"/>
<rect x="613" y="253" width="1" height="28" fill="#ff4500"/>
<rect x="617" y="240" width="1" height="31" fill="#ff0000"/>
<rect x="616" y="241" width="3" height="13" fill="#ff0000"/>
<rect x="617" y="242" width="1" height="11" fill="#ff4500"/>
<rect x="621" y="242" width="1" height="6" fill="#32cd32"/>
<rect x="620" y="242" width="3" height="6" fill="#32cd32"/>
<rect x="621" y="243" width="1" height="4" fill="#3cd23c"/>
<rect x="625" y="219" width="1" height="25" fill="#ff0000"/>
<rect x="624" y="225" width="3" height="14" fill="#ff0000"/>
<rect x="625" y="226" width="1" height="12" fill="#ff4500"/>
<rect x="629" y="218" width="1" height="24" fill="#32cd32"/>
<rect x="628" y="225" width="3" height="14" fill="#32cd32"/>
<rect x="629" y="226" width="1" height="12" fill="#3cd23c"/>
<rect x="633" y="218" width="1" height="31" fill="#ff0000"/>
<rect x="632" y="229" width="3" height="10" fill="#ff0000"/>
<rect x="633" y="230" width="1" height="8" fill="#ff4500"/>
<rect x="637" y="196" width="1" height="35" fill="#ff0000"/>
<rect x="636" y="199" width="3" height="32" fill="#ff0000"/>
<rect x="637" y="200" width="1" height="30" fill="#ff4500"/>
<rect x="641" y="188" width="1" height="17" fill="#ff0000"/>
<rect x="640" y="192" width="3" height="9" fill="#ff0000"/>
<rect x="641" y="193" width="1" height="7" fill="#ff4500"/>
<rect x="645" y="189" width="1" height="5" fill="#ff0000"/>
<rect x="644" y="189" width="3" height="4" fill="#ff0000"/>
<rect x="645" y="190" width="1" height="2" fill="#ff4500"/>
<rect x="649" y="172" width="1" height="52" fill="#32cd32"/>
<rect x="648" y="177" width="3" height="41" fill="#32cd32"/>
<rect x="649" y="178" width="1" height="39" fill="#3cd23c"/>
<rect x="653" y="203" width="1" height="28" fill="#32cd32"/>
<rect x="652" y="216" width="3" height="2" fill="#32cd32"/>
<rect x="657" y="193" width="1" height="31" fill="#ff0000"/>
<rect x="656" y="206" width="3" height="12" fill="#ff0000"/>
<rect x="657" y="207" width="1" height="10" fill="#ff4500"/>
<rect x="661" y="170" width="1" height="42" fill="#ff0000"/>
<rect x="660" y="171" width="3" height="37" fill="#ff0000"/>
<rect x="661" y="172" width="1" height="35" fill="#ff4500"/>
<rect x="665" y="140" width="1" height="33" fill="#ff0000"/>
<rect x="664" y="146" width="3" height="27" fill="#ff0000"/>
<rect x="665" y="147" width="1" height="25" fill="#ff4500"/>
<rect x="669" y="144" width="1" height="12" fill="#32cd32"/>
<rect x="668" y="145" width="3" height="10" fill="#32cd32"/>
<rect x="669" y="146" width="1" height="8" fill="#3cd23c"/>
<rect x="673" y="135" width="1" height="25" fill="#32cd32"/>
<rect x="672" y="145" width="3" height="12" fill="#32cd32"/>
<rect x="673" y="146" width="1" height="10" fill="#3cd23c"/>
<rect x="677" y="142" width="1" height="17" fill="#ff0000"/>
<rect x="676" y="148" width="3" height="9" fill="#ff0000"/>
<rect x="677" y="149" width="1" height="7" fill="#ff4500"/>
<rect x="681" y="126" width="1" height="25" fill="#ff0000"/>
<rect x="680" y="129" width="3" height="21" fill="#ff0000"/>
<rect x="681" y="130" width="1" height="19" fill="#ff4500"/>
<rect x="685" y="128" width="1" height="32" fill="#32cd32"/>
<rect x="684" y="129" width="3" height="26" fill="#32cd32"/>
<rect x="685" y="130" width="1" height="24" fill="#3cd23c"/>
<rect x="689" y="146" width="1" height="53" fill="#32cd32"/>
<rect x="688" y="154" width="3" height="40" fill="#32cd32"/>
<rect x="689" y="155" width="1" height="38" fill="#3cd23c"/>
<rect x="693" y="174" width="1" height="24" fill="#ff0000"/>
<rect x="692" y="175" width="3" height="17" fill="#ff0000"/>
<rect x="693" y="176" width="1" height="15" fill="#ff4500"/>
<rect x="697" y="158" width="1" height="29" fill="#32cd32"/>
<rect x="696" y="170" width="3" height="9" fill="#32cd32"/>
<rect x="697" y="171" width="1" height="7" fill="#3cd23c"/>
<rect x="701" y="160" width="1" height="24" fill="#ff0000"/>
<rect x="700" y="161" width="3" height="18" fill="#ff0000"/>
<rect x="701" y="162" width="1" height="16" fill="#ff4500"/>
<rect x="705" y="155" width="1" height="21" fill="#ff0000"/>
<rect x="704" y="158" width="3" height="5" fill="#ff0000"/>
<rect x="705" y="159" width="1" height="3" fill="#ff4500"/>
<rect x="709" y="150" width="1" height="76" fill="#32cd32"/>
<rect x="708" y="158" width="3" height="60" fill="#32cd32"/>
<rect x="709" y="159" width="1" height="58" fill="#3cd23c"/>
<rect x="713" y="212" width="1" height="28" fill="#32cd32"/>
<rect x="712" y="216" width="3" height="11" fill="#32cd32"/>
<rect x="713" y="217" width="1" height="9" fill="#3cd23c"/>
<rect x="717" y="223" width="1" height="11" fill="#32cd32"/>
<rect x="716" y="224" width="3" height="3" fill="#32cd32"/>
<rect x="717" y="225" width="1" height="1" fill="#3cd23c"/>
<rect x="721" y="199" width="1" height="45" fill="#ff0000"/>
<rect x="720" y="205" width="3" height="38" fill="#ff0000"/>
<rect x="721" y="206" width="1" height="36" fill="#ff4500"/>
<rect x="725" y="200" width="1" height="26" fill="#32cd32"/>
<rect x="724" y="205" width="3" height="13" fill="#32cd32"/>
<rect x="725" y="206" width="1" height="11" fill="#3cd23c"/>
<rect x="729" y="213" width="1" height="52" fill="#32cd32"/>
<rect x="728" y="216" width="3" height="30" fill="#32cd32"/>
<rect x="729" y="217" width="1" height="28" fill="#3cd23c"/>
<rect x="733" y="203" width="1" height="80" fill="#ff0000"/>
<rect x="732" y="212" width="3" height="34" fill="#ff0000"/>
<rect x="733" y="213" width="1" height="32" fill="#ff4500"/>
<rect x="737" y="178" width="1" height="37" fill="#ff0000"/>
<rect x="736" y="193" width="3" height="21" fill="#ff0000"/>
<rect x="737" y="194" width="1" height="19" fill="#ff4500"/>
<rect x="741" y="190" width="1" height="6" fill="#ff0000"/>
<rect x="740" y="191" width="3" height="4" fill="#ff0000"/>
<rect x="741" y="192" width="1" height="2" fill="#ff4500"/>
<rect x="745" y="180" width="1" height="21" fill="#32cd32"/>
<rect x="744" y="190" width="3" height="11" fill="#32cd32"/>
<rect x="745" y="191" width="1" height="9" fill="#3cd23c"/>
<rect x="749" y="181" width="1" height="20" fill="#ff0000"/>
<rect x="748" y="183" width="3" height="18" fill="#ff0000"/>
<rect x="749" y="184" width="1" height="16" fill="#ff4500"/>
<rect x="753" y="170" width="1" height="24" fill="#ff0000"/>
<rect x="752" y="172" width="3" height="13" fill="#ff0000"/>
<rect x="753" y="173" width="1" height="11" fill="#ff4500"/>
<rect x="757" y="166" width="1" height="25" fill="#32cd32"/>
<rect x="756" y="173" width="3" height="7" fill="#32cd32"/>
<rect x="757" y="174" width="1" height="5" fill="#3cd23c"/>
<rect x="761" y="167" width="1" height="35" fill="#ff0000"/>
<rect x="760" y="169" width="3" height="11" fill="#ff0000"/>
<rect x="761" y="170" width="1" height="9" fill="#ff4500"/>
<rect x="765" y="164" width="1" height="8" fill="#32cd32"/>
<rect x="764" y="168" width="3" height="3" fill="#32cd32"/>
<rect x="765" y="169" width="1" height="1" fill="#3cd23c"/>
<rect x="769" y="159" width="1" height="19" fill="#32cd32"/>
<rect x="768" y="162" width="3" height="15" fill="#32cd32"/>
<rect x="769" y="163" width="1" height="13" fill="#3cd23c"/>
<rect x="773" y="152" width="1" height="13" fill="#ff0000"/>
<rect x="772" y="153" width="3" height="12" fill="#ff0000"/>
<rect x="773" y="154" width="1" height="10" fill="#ff4500"/>
<rect x="777" y="147" width="1" height="26" fill="#32cd32"/>
<rect x="776" y="152" width="3" height="13" fill="#32cd32"/>
<rect x="777" y="153" width="1" height="11" fill="#3cd23c"/>
<rect x="781" y="153" width="1" height="33" fill="#32cd32"/>
<rect x="780" y="160" width="3" height="9" fill="#32cd32"/>
<rect x="781" y="161" width="1" height="7" fill="#3cd23c"/>
<rect x="785" y="155" width="1" height="22" fill="#ff0000"/>
<rect x="784" y="161" width="3" height="8" fill="#ff0000"/>
<rect x="785" y="162" width="1" height="6" fill="#ff4500"/>
<rect x="789" y="157" width="1" height="7" fill="#ff0000"/>
<rect x="788" y="160" width="3" height="3" fill="#ff0000"/>
<rect x="789" y="161" width="1" height="1" fill="#ff4500"/>
<rect x="793" y="169" width="1" height="11" fill="#32cd32"/>
<rect x="792" y="169" width="3" height="4" fill="#32cd32"/>
<rect x="793" y="170" width="1" height="2" fill="#3cd23c"/>
<rect x="797" y="169" width="1" height="21" fill="#32cd32"/>
<rect x="796" y="171" width="3" height="6" fill="#32cd32"/>
<rect x="797" y="172" width="1" height="4" fill="#3cd23c"/>
<rect x="801" y="152" width="1" height="26" fill="#ff0000"/>
<rect x="800" y="154" width="3" height="23" fill="#ff0000"/>
<rect x="801" y="155" width="1" height="21" fill="#ff4500"/>
<rect x="805" y="142" width="1" height="27" fill="#32cd32"/>
<rect x="804" y="155" width="3" height="6" fill="#32cd32"/>
<rect x="805" y="156" width="1" height="4" fill="#3cd23c"/>
<rect x="809" y="151" width="1" height="21" fill="#ff0000"/>
<rect x="808" y="156" width="3" height="5" fill="#ff0000"/>
<rect x="809" y="157" width="1" height="3" fill="#ff4500"/>
<rect x="813" y="152" width="1" height="11" fill="#ff0000"/>
<rect x="812" y="154" width="3" height="4" fill="#ff0000"/>
<rect x="813" y="155" width="1" height="2" fill="#ff4500"/>
<rect x="817" y="137" width="1" height="18" fill="#ff0000"/>
<rect x="816" y="139" width="3" height="15" fill="#ff0000"/>
<rect x="817" y="140" width="1" height="13" fill="#ff4500"/>
<rect x="821" y="137" width="1" height="16" fill="#32cd32"/>
<rect x="820" y="139" width="3" height="5" fill="#32cd32"/>
<rect x="821" y="140" width="1" height="3" fill="#3cd23c"/>
<rect x="825" y="132" width="1" height="14" fill="#ff0000"/>
<rect x="824" y="141" width="3" height="3" fill="#ff0000"/>
<rect x="825" y="142" width="1" height="1" fill="#ff4500"/>
<rect x="829" y="138" width="1" height="30" fill="#32cd32"/>
<rect x="828" y="141" width="3" height="26" fill="#32cd32"/>
<rect x="829" y="142" width="1" height="24" fill="#3cd23c"/>
<rect x="833" y="145" width="1" height="24" fill="#ff0000"/>
<rect x="832" y="145" width="3" height="22" fill="#ff0000"/>
<rect x="833" y="146" width="1" height="20" fill="#ff4500"/>
<rect x="837" y="144" width="1" height="6" fill="#32cd32"/>
<rect x="836" y="145" width="3" height="3" fill="#32cd32"/>
<rect x="837" y="146" width="1" height="1" fill="#3cd23c"/>
<rect x="841" y="140" width="1" height="15" fill="#ff0000"/>
<rect x="840" y="144" width="3" height="4" fill="#ff0000"/>
<rect x="841" y="145" width="1" height="2" fill="#ff4500"/>
<rect x="845" y="138" width="1" height="15" fill="#ff0000"/>
<rect x="844" y="139" width="3" height="7" fill="#ff0000"/>
<rect x="845" y="140" width="1" height="5" fill="#ff4500"/>
<rect x="849" y="137" width="1" height="10" fill="#32cd32"/>
<rect x="848" y="138" width="3" height="3" fill="#32cd32"/>
<rect x="849" y="139" width="1" height="1" fill="#3cd23c"/>
<rect x="853" y="99" width="1" height="49" fill="#ff0000"/>
<rect x="852" y="103" width="3" height="38" fill="#ff0000"/>
<rect x="853" y="104" width="1" height="36" fill="#ff4500"/>
<rect x="857" y="90" width="1" height="15" fill="#ff0000"/>
<rect x="856" y="102" width="3" height="2" fill="#ff0000"/>
<rect x="861" y="95" width="1" height="11" fill="#ff0000"/>
<rect x="860" y="96" width="3" height="8" fill="#ff0000"/>
<rect x="861" y="97" width="1" height="6" fill="#ff4500"/>
<rect x="865" y="87" width="1" height="19" fill="#32cd32"/>
<rect x="864" y="97" width="3" height="2" fill="#32cd32"/>
<rect x="869" y="93" width="1" height="14" fill="#ff0000"/>
<rect x="868" y="95" width="3" height="4" fill="#ff0000"/>
<rect x="869" y="96" width="1" height="2" fill="#ff4500"/>
<rect x="873" y="79" width="1" height="32" fill="#32cd32"/>
<rect x="872" y="95" width="3" height="10" fill="#32cd32"/>
<rect x="873" y="96" width="1" height="8" fill="#3cd23c"/>
<rect x="877" y="79" width="1" height="33" fill="#ff0000"/>
<rect x="876" y="80" width="3" height="25" fill="#ff0000"/>
<rect x="877" y="81" width="1" height="23" fill="#ff4500"/>
<rect x="881" y="63" width="1" height="23" fill="#ff0000"/>
<rect x="880" y="68" width="3" height="14" fill="#ff0000"/>
<rect x="881" y="69" width="1" height="12" fill="#ff4500"/>
<rect x="885" y="108" width="1" height="24" fill="#ff0000"/>
<rect x="884" y="115" width="3" height="8" fill="#ff0000"/>
<rect x="885" y="116" width="1" height="6" fill="#ff4500"/>
<rect x="889" y="111" width="1" height="13" fill="#32cd32"/>
<rect x="888" y="114" width="3" height="3" fill="#32cd32"/>
<rect x="889" y="115" width="1" height="1" fill="#3cd23c"/>
<rect x="893" y="110" width="1" height="14" fill="#ff0000"/>
<rect x="892" y="113" width="3" height="4" fill="#ff0000"/>
<rect x="893" y="114" width="1" height="2" fill="#ff4500"/>
<rect x="897" y="106" width="1" height="15" fill="#ff0000"/>
<rect x="896" y="107" width="3" height="8" fill="#ff0000"/>
<rect x="897" y="108" width="1" height="6" fill="#ff4500"/>
<rect x="901" y="104" width="1" height="5" fill="#ff0000"/>
<rect x="900" y="105" width="3" height="3" fill="#ff0000"/>
<rect x="901" y="106" width="1" height="1" fill="#ff4500"/>
<rect x="905" y="75" width="1" height="25" fill="#ff0000"/>
<rect x="904" y="75" width="3" height="10" fill="#ff0000"/>
<rect x="905" y="76" width="1" height="8" fill="#ff4500"/>
<rect x="909" y="56" width="1" height="22" fill="#ff0000"/>
<rect x="908" y="60" width="3" height="16" fill="#ff0000"/>
<rect x="909" y="61" width="1" height="14" fill="#ff4500"/>
<rect x="913" y="56" width="1" height="23" fill="#32cd32"/>
<rect x="912" y="60" width="3" height="9" fill="#32cd32"/>
<rect x="913" y="61" width="1" height="7" fill="#3cd23c"/>
<rect x="917" y="47" width="1" height="53" fill="#32cd32"/>
<rect x="916" y="67" width="3" height="27" fill="#32cd32"/>
<rect x="917" y="68" width="1" height="25" fill="#3cd23c"/>
<rect x="921" y="76" width="1" height="59" fill="#32cd32"/>
<rect x="920" y="91" width="3" height="30" fill="#32cd32"/>
<rect x="921" y="92" width="1" height="28" fill="#3cd23c"/>
<rect x="925" y="115" width="1" height="10" fill="#ff0000"/>
<rect x="924" y="116" width="3" height="5" fill="#ff0000"/>
<rect x="925" y="117" width="1" height="3" fill="#ff4500"/>
<rect x="4" y="456" width="3" height="7" fill="#c0c0c0"/>
<rect x="8" y="456" width="3" height="6" fill="#c0c0c0"/>
<rect x="12" y="456" width="3" height="5" fill="#c0c0c0"/>
<rect x="16" y="456" width="3" height="7" fill="#c0c0c0"/>
<rect x="20" y="456" width="3" height="13" fill="#c0c0c0"/>
<rect x="24" y="456" width="3" height="16" fill="#c0c0c0"/>
<rect x="28" y="456" width="3" height="18" fill="#c0c0c0"/>
<rect x="32" y="456" width="3" height="20" fill="#c0c0c0"/>
<rect x="36" y="456" width="3" height="20" fill="#c0c0c0"/>
<rect x="40" y="456" width="3" height="24" fill="#c0c0c0"/>
<rect x="44" y="456" width="3" height="24" fill="#c0c0c0"/>
<rect x="48" y="456" width="3" height="24" fill="#c0c0c0"/>
<rect x="52" y="456" width="3" height="26" fill="#c0c0c0"/>
<rect x="56" y="456" width="3" height="25" fill="#c0c0c0"/>
<rect x="60" y="456" width="3" height="24" fill="#c0c0c0"/>
<rect x="64" y="456" width="3" height="21" fill="#c0c0c0"/>
<rect x="68" y="456" width="3" height="20" fill="#c0c0c0"/>
<rect x="72" y="456" width="3" height="20" fill="#c0c0c0"/>
<rect x="76" y="456" width="3" height="20" fill="#c0c0c0"/>
<rect x="80" y="456" width="3" height="20" fill="#c0c0c0"/>
<rect x="84" y="456" width="3" height="22" fill="#c0c0c0"/>
<rect x="88" y="456" width="3" height="22" fill="#c0c0c0"/>
<rect x="92" y="456" width="3" height="22" fill="#c0c0c0"/>
<rect x="96" y="456" width="3" height="22" fill="#c0c0c0"/>
<rect x="100" y="456" width="3" height="20" fill="#c0c0c0"/>
<rect x="104" y="456" width="3" height="18" fill="#c0c0c0"/>
<rect x="108" y="456" width="3" height="15" fill="#c0c0c0"/>
<rect x="112" y="456" width="3" height="9" fill="#c0c0c0"/>
<rect x="116" y="456" width="3" height="4" fill="#c0c0c0"/>
<rect x="120" y="456" width="3" height="1" fill="#c0c0c0"/>
<rect x="124" y="454" width="3" height="2" fill="#c0c0c0"/>
<rect x="128" y="452" width="3" height="4" fill="#c0c0c0"/>
<rect x="132" y="449" width="3" height="7" fill="#c0c0c0"/>
<rect x="136" y="445" width="3" height="11" fill="#c0c0c0"/>
<rect x="140" y="441" width="3" height="15" fill="#c0c0c0"/>
<rect x="144" y="438" width="3" height="18" fill="#c0c0c0"/>
<rect x="148" y="436" width="3" height="20" fill="#c0c0c0"/>
<rect x="152" y="436" width="3" height="20" fill="#c0c0c0"/>
<rect x="156" y="436" width="3" height="20" fill="#c0c0c0"/>
<rect x="160" y="436" width="3" height="20" fill="#c0c0c0"/>
<rect x="164" y="432" width="3" height="24" fill="#c0c0c0"/>
<rect x="168" y="429" width="3" height="27" fill="#c0c0c0"/>
<rect x="172" y="426" width="3" height="30" fill="#c0c0c0"/>
<rect x="176" y="426" width="3" height="30" fill="#c0c0c0"/>
<rect x="180" y="425" width="3" height="31" fill="#c0c0c0"/>
<rect x="184" y="424" width="3" height="32" fill="#c0c0c0"/>
<rect x="188" y="423" width="3" height="33" fill="#c0c0c0"/>
<rect x="192" y="423" width="3" height="33" fill="#c0c0c0"/>
<rect x="196" y="422" width="3" height="34" fill="#c0c0c0"/>
<rect x="200" y="424" width="3" height="32" fill="#c0c0c0"/>
<rect x="204" y="426" width="3" height="30" fill="#c0c0c0"/>
<rect x="208" y="433" width="3" height="23" fill="#c0c0c0"/>
<rect x="212" y="438" width="3" height="18" fill="#c0c0c0"/>
<rect x="216" y="443" width="3" height="13" fill="#c0c0c0"/>
<rect x="220" y="445" width="3" height="11" fill="#c0c0c0"/>
<rect x="224" y="447" width="3" height="9" fill="#c0c0c0"/>
<rect x="228" y="449" width="3" height="7" fill="#c0c0c0"/>
<rect x="232" y="454" width="3" height="2" fill="#c0c0c0"/>
<rect x="236" y="455" width="3" height="1" fill="#c0c0c0"/>
<rect x="240" y="456" width="3" height="2" fill="#c0c0c0"/>
<rect x="244" y="456" width="3" height="2" fill="#c0c0c0"/>
<rect x="248" y="456" width="3" height="1" fill="#c0c0c0"/>
<rect x="252" y="456" width="3" height="2" fill="#c0c0c0"/>
<rect x="256" y="456" width="3" height="1" fill="#c0c0c0"/>
<rect x="260" y="456" width="3" height="1" fill="#c0c0c0"/>
<rect x="264" y="456" width="3" height="1" fill="#c0c0c0"/>
<rect x="268" y="456" width="3" height="1" fill="#c0c0c0"/>
<rect x="272" y="456" width="3" height="1" fill="#c0c0c0"/>
<rect x="276" y="456" width="3" height="2" fill="#c0c0c0"/>
<rect x="280" y="456" width="3" height="4" fill="#c0c0c0"/>
<rect x="284" y="456" width="3" height="7" fill="#c0c0c0"/>
<rect x="288" y="456" width="3" height="8" fill="#c0c0c0"/>
<rect x="292" y="456" width="3" height="10" fill="#c0c0c0"/>
<rect x="296" y="456" width="3" height="15" fill="#c0c0c0"/>
<rect x="300" y="456" width="3" height="18" fill="#c0c0c0"/>
<rect x="304" y="456" width="3" height="23" fill="#c0c0c0"/>
<rect x="308" y="456" width="3" height="24" fill="#c0c0c0"/>
<rect x="312" y="456" width="3" height="24" fill="#c0c0c0"/>
<rect x="316" y="456" width="3" height="22" fill="#c0c0c0"/>
<rect x="320" y="456" width="3" height="23" fill="#c0c0c0"/>
<rect x="324" y="456" width="3" height="22" fill="#c0c0c0"/>
<rect x="328" y="456" width="3" height="19" fill="#c0c0c0"/>
<rect x="332" y="456" width="3" height="16" fill="#c0c0c0"/>
<rect x="336" y="456" width="3" height="14" fill="#c0c0c0"/>
<rect x="340" y="456" width="3" height="12" fill="#c0c0c0"/>
<rect x="344" y="456" width="3" height="11" fill="#c0c0c0"/>
<rect x="348" y="456" width="3" height="10" fill="#c0c0c0"/>
<rect x="352" y="456" width="3" height="9" fill="#c0c0c0"/>
<rect x="356" y="456" width="3" height="8" fill="#c0c0c0"/>
<rect x="360" y="456" width="3" height="9" fill="#c0c0c0"/>
<rect x="364" y="456" width="3" height="7" fill="#c0c0c0"/>
<rect x="368" y="456" width="3" height="7" fill="#c0c0c0"/>
<rect x="372" y="456" width="3" height="5" fill="#c0c0c0"/>
<rect x="376" y="456" width="3" height="1" fill="#c0c0c0"/>
<rect x="380" y="454" width="3" height="2" fill="#c0c0c0"/>
<rect x="384" y="452" width="3" height="4" fill="#c0c0c0"/>
<rect x="388" y="449" width="3" height="7" fill="#c0c0c0"/>
<rect x="392" y="447" width="3" height="9" fill="#c0c0c0"/>
<rect x="396" y="445" width="3" height="11" fill="#c0c0c0"/>
<rect x="400" y="446" width="3" height="10" fill="#c0c0c0"/>
<rect x="404" y="447" width="3" height="9" fill="#c0c0c0"/>
<rect x="408" y="448" width="3" height="8" fill="#c0c0c0"/>
<rect x="412" y="450" width="3" height="6" fill="#c0c0c0"/>
<rect x="416" y="453" width="3" height="3" fill="#c0c0c0"/>
<rect x="420" y="453" width="3" height="3" fill="#c0c0c0"/>
<rect x="424" y="451" width="3" height="5" fill="#c0c0c0"/>
<rect x="428" y="449" width="3" height="7" fill="#c0c0c0"/>
<rect x="432" y="450" width="3" height="6" fill="#c0c0c0"/>
<rect x="436" y="451" width="3" height="5" fill="#c0c0c0"/>
<rect x="440" y="452" width="3" height="4" fill="#c0c0c0"/>
<rect x="444" y="452" width="3" height="4" fill="#c0c0c0"/>
<rect x="448" y="454" width="3" height="2" fill="#c0c0c0"/>
<rect x="452" y="454" width="3" height="2" fill="#c0c0c0"/>
<rect x="456" y="455" width="3" height="1" fill="#c0c0c0"/>
<rect x="460" y="454" width="3" height="2" fill="#c0c0c0"/>
<rect x="464" y="451" width="3" height="5" fill="#c0c0c0"/>
<rect x="468" y="450" width="3" height="6" fill="#c0c0c0"/>
<rect x="472" y="447" width="3" height="9" fill="#c0c0c0"/>
<rect x="476" y="445" width="3" height="11" fill="#c0c0c0"/>
<rect x="480" y="443" width="3" height="13" fill="#c0c0c0"/>
<rect x="484" y="442" width="3" height="14" fill="#c0c0c0"/>
<rect x="488" y="440" width="3" height="16" fill="#c0c0c0"/>
<rect x="492" y="440" width="3" height="16" fill="#c0c0c0"/>
<rect x="496" y="440" width="3" height="16" fill="#c0c0c0"/>
<rect x="500" y="439" width="3" height="17" fill="#c0c0c0"/>
<rect x="504" y="439" width="3" height="17" fill="#c0c0c0"/>
<rect x="508" y="439" width="3" height="17" fill="#c0c0c0"/>
<rect x="512" y="437" width="3" height="19" fill="#c0c0c0"/>
<rect x="516" y="436" width="3" height="20" fill="#c0c0c0"/>
<rect x="520" y="435" width="3" height="21" fill="#c0c0c0"/>
<rect x="524" y="435" width="3" height="21" fill="#c0c0c0"/>
<rect x="528" y="436" width="3" height="20" fill="#c0c0c0"/>
<rect x="532" y="438" width="3" height="18" fill="#c0c0c0"/>
<rect x="536" y="441" width="3" height="15" fill="#c0c0c0"/>
<rect x="540" y="447" width="3" height="9" fill="#c0c0c0"/>
<rect x="544" y="453" width="3" height="3" fill="#c0c0c0"/>
<rect x="548" y="456" width="3" height="4" fill="#c0c0c0"/>
<rect x="552" y="456" width="3" height="9" fill="#c0c0c0"/>
<rect x="556" y="456" width="3" height="10" fill="#c0c0c0"/>
<rect x="560" y="456" width="3" height="13" fill="#c0c0c0"/>
<rect x="564" y="456" width="3" height="16" fill="#c0c0c0"/>
<rect x="568" y="456" width="3" height="21" fill="#c0c0c0"/>
<rect x="572" y="456" width="3" height="24" fill="#c0c0c0"/>
<rect x="576" y="456" width="3" height="24" fill="#c0c0c0"/>
<rect x="580" y="456" width="3" height="22" fill="#c0c0c0"/>
<rect x="584" y="456" width="3" height="20" fill="#c0c0c0"/>
<rect x="588" y="456" width="3" height="16" fill="#c0c0c0"/>
<rect x="592" y="456" width="3" height="14" fill="#c0c0c0"/>
<rect x="596" y="456" width="3" height="10" fill="#c0c0c0"/>
<rect x="600" y="456" width="3" height="10" fill="#c0c0c0"/>
<rect x="604" y="456" width="3" height="10" fill="#c0c0c0"/>
<rect x="608" y="456" width="3" height="10" fill="#c0c0c0"/>
<rect x="612" y="456" width="3" height="8" fill="#c0c0c0"/>
<rect x="616" y="456" width="3" height="5" fill="#c0c0c0"/>
<rect x="620" y="456" width="3" height="3" fill="#c0c0c0"/>
<rect x="624" y="455" width="3" height="1" fill="#c0c0c0"/>
<rect x="628" y="454" width="3" height="2" fill="#c0c0c0"/>
<rect x="632" y="452" width="3" height="4" fill="#c0c0c0"/>
<rect x="636" y="449" width="3" height="7" fill="#c0c0c0"/>
<rect x="640" y="446" width="3" height="10" fill="#c0c0c0"/>
<rect x="644" y="444" width="3" height="12" fill="#c0c0c0"/>
<rect x="648" y="444" width="3" height="12" fill="#c0c0c0"/>
<rect x="652" y="444" width="3" height="12" fill="#c0c0c0"/>
<rect x="656" y="444" width="3" height="12" fill="#c0c0c0"/>
<rect x="660" y="441" width="3" height="15" fill="#c0c0c0"/>
<rect x="664" y="437" width="3" height="19" fill="#c0c0c0"/>
<rect x="668" y="435" width="3" height="21" fill="#c0c0c0"/>
<rect x="672" y="434" width="3" height="22" fill="#c0c0c0"/>
<rect x="676" y="433" width="3" height="23" fill="#c0c0c0"/>
<rect x="680" y="431" width="3" height="25" fill="#c0c0c0"/>
<rect x="684" y="431" width="3" height="25" fill="#c0c0c0"/>
<rect x="688" y="434" width="3" height="22" fill="#c0c0c0"/>
<rect x="692" y="435" width="3" height="21" fill="#c0c0c0"/>
<rect x="696" y="438" width="3" height="18" fill="#c0c0c0"/>
<rect x="700" y="438" width="3" height="18" fill="#c0c0c0"/>
<rect x="704" y="438" width="3" height="18" fill="#c0c0c0"/>
<rect x="708" y="443" width="3" height="13" fill="#c0c0c0"/>
<rect x="712" y="447" width="3" height="9" fill="#c0c0c0"/>
<rect x="716" y="451" width="3" height="5" fill="#c0c0c0"/>
<rect x="720" y="452" width="3" height="4" fill="#c0c0c0"/>
<rect x="724" y="454" width="3" height="2" fill="#c0c0c0"/>
<rect x="728" y="456" width="3" height="2" fill="#c0c0c0"/>
<rect x="732" y="456" width="3" height="3" fill="#c0c0c0"/>
<rect x="736" y="456" width="3" height="2" fill="#c0c0c0"/>
<rect x="740" y="456" width="3" height="1" fill="#c0c0c0"/>
<rect x="744" y="456" width="3" height="1" fill="#c0c0c0"/>
<rect x="748" y="455" width="3" height="1" fill="#c0c0c0"/>
<rect x="752" y="453" width="3" height="3" fill="#c0c0c0"/>
<rect x="756" y="452" width="3" height="4" fill="#c0c0c0"/>
<rect x="760" y="451" width="3" height="5" fill="#c0c0c0"/>
<rect x="764" y="450" width="3" height="6" fill="#c0c0c0"/>
<rect x="768" y="449" width="3" height="7" fill="#c0c0c0"/>
<rect x="772" y="447" width="3" height="9" fill="#c0c0c0"/>
<rect x="776" y="447" width="3" height="9" fill="#c0c0c0"/>
<rect x="780" y="447" width="3" height="9" fill="#c0c0c0"/>
<rect x="784" y="447" width="3" height="9" fill="#c0c0c0"/>
<rect x="788" y="446" width="3" height="10" fill="#c0c0c0"/>
<rect x="792" y="447" width="3" height="9" fill="#c0c0c0"/>
<rect x="796" y="448" width="3" height="8" fill="#c0c0c0"/>
<rect x="800" y="448" width="3" height="8" fill="#c0c0c0"/>
<rect x="804" y="447" width="3" height="9" fill="#c0c0c0"/>
<rect x="808" y="447" width="3" height="9" fill="#c0c0c0"/>
<rect x="812" y="447" width="3" height="9" fill="#c0c0c0"/>
<rect x="816" y="446" width="3" height="10" fill="#c0c0c0"/>
<rect x="820" y="446" width="3" height="10" fill="#c0c0c0"/>
<rect x="824" y="446" width="3" height="10" fill="#c0c0c0"/>
<rect x="828" y="447" width="3" height="9" fill="#c0c0c0"/>
<rect x="832" y="447" width="3" height="9" fill="#c0c0c0"/>
<rect x="836" y="447" width="3" height="9" fill="#c0c0c0"/>
<rect x="840" y="447" width="3" height="9" fill="#c0c0c0"/>
<rect x="844" y="447" width="3" height="9" fill="#c0c0c0"/>
<rect x="848" y="447" width="3" height="9" fill="#c0c0c0"/>
<rect x="852" y="444" width="3" height="12" fill="#c0c0c0"/>
<rect x="856" y="443" width="3" height="13" fill="#c0c0c0"/>
<rect x="860" y="441" width="3" height="15" fill="#c0c0c0"/>
<rect x="864" y="440" width="3" height="16" fill="#c0c0c0"/>
<rect x="868" y="439" width="3" height="17" fill="#c0c0c0"/>
<rect x="872" y="439" width="3" height="17" fill="#c0c0c0"/>
<rect x="876" y="438" width="3" height="18" fill="#c0c0c0"/>
<rect x="880" y="436" width="3" height="20" fill="#c0c0c0"/>
<rect x="884" y="438" width="3" height="18" fill="#c0c0c0"/>
<rect x="888" y="440" width="3" height="16" fill="#c0c0c0"/>
<rect x="892" y="442" width="3" height="14" fill="#c0c0c0"/>
<rect x="896" y="443" width="3" height="13" fill="#c0c0c0"/>
<rect x="900" y="444" width="3" height="12" fill="#c0c0c0"/>
<rect x="904" y="442" width="3" height="14" fill="#c0c0c0"/>
<rect x="908" y="441" width="3" height="15" fill="#c0c0c0"/>
<rect x="912" y="439" width="3" height="17" fill="#c0c0c0"/>
<rect x="916" y="441" width="3" height="15" fill="#c0c0c0"/>
<rect x="920" y="444" width="3" height="12" fill="#c0c0c0"/>
<rect x="924" y="446" width="3" height="10" fill="#c0c0c0"/>
<path d="M567.5 458v2M204 424.5h4M200 425.5h4M208 425.5h3M197 426.5h3M211 426.5h2M195 427.5h2M213 427.5h2M192 428.5h3M215 428.5h2M188 429.5h4M217 429.5h2M184 430.5h4M219 430.5h2M181 431.5h3M221 431.5h1M179 432.5h2M222 432.5h2M177 433.5h2M224 433.5h1M175 434.5h2M225 434.5h2M173 435.5h2M227 435.5h2M696 435.5h12M171 436.5h2M229 436.5h1M688 436.5h8M708 436.5h4M169 437.5h2M230 437.5h1M528 437.5h12M684 437.5h4M712 437.5h2M167 438.5h2M231 438.5h1M520 438.5h8M540 438.5h3M680 438.5h4M714 438.5h2M165 439.5h2M232 439.5h1M516 439.5h4M543 439.5h2M677 439.5h3M716 439.5h1M888 439.5h12M163 440.5h2M233 440.5h1M512 440.5h4M545 440.5h2M675 440.5h2M717 440.5h2M884 440.5h4M900 440.5h16M161 441.5h2M234 441.5h2M508 441.5h4M547 441.5h2M673 441.5h2M719 441.5h2M880 441.5h4M916 441.5h4M159 442.5h2M236 442.5h1M504 442.5h4M549 442.5h1M671 442.5h2M721 442.5h2M876 442.5h4M920 442.5h4M157 443.5h2M237 443.5h1M500 443.5h4M550 443.5h2M668 443.5h3M723 443.5h2M872 443.5h4M924 443.5h2M155 444.5h2M238 444.5h1M497 444.5h3M552 444.5h1M665 444.5h3M725 444.5h2M868 444.5h4M153 445.5h2M239 445.5h1M495 445.5h2M553 445.5h1M663 445.5h2M727 445.5h2M864 445.5h4M152 446.5h1M240 446.5h1M492 446.5h3M554 446.5h1M661 446.5h2M729 446.5h1M853 446.5h11M150 447.5h2M241 447.5h2M489 447.5h3M555 447.5h1M659 447.5h2M730 447.5h2M851 447.5h2M149 448.5h1M243 448.5h2M487 448.5h2M556 448.5h1M657 448.5h2M732 448.5h1M792 448.5h59M148 449.5h1M245 449.5h2M409 449.5h23M484 449.5h3M557 449.5h1M655 449.5h2M733 449.5h2M784 449.5h8M146 450.5h2M247 450.5h2M407 450.5h2M432 450.5h8M480 450.5h4M558 450.5h2M652 450.5h3M735 450.5h2M780 450.5h4M145 451.5h1M249 451.5h2M404 451.5h3M440 451.5h12M476 451.5h4M560 451.5h1M649 451.5h3M737 451.5h2M776 451.5h4M144 452.5h1M251 452.5h2M401 452.5h3M452 452.5h24M561 452.5h1M647 452.5h2M739 452.5h2M772 452.5h4M143 453.5h1M253 453.5h3M399 453.5h2M562 453.5h1M645 453.5h2M741 453.5h3M768 453.5h4M142 454.5h1M256 454.5h4M397 454.5h2M563 454.5h1M644 454.5h1M744 454.5h4M764 454.5h4M141 455.5h1M260 455.5h4M395 455.5h2M564 455.5h1M642 455.5h2M748 455.5h16M140 456.5h1M264 456.5h8M393 456.5h2M565 456.5h1M641 456.5h1M138 457.5h2M272 457.5h4M391 457.5h2M566 457.5h1M640 457.5h1M137 458.5h1M276 458.5h8M389 458.5h2M638 458.5h2M136 459.5h1M284 459.5h8M387 459.5h2M636 459.5h2M135 460.5h1M292 460.5h3M384 460.5h3M568 460.5h1M633 460.5h3M134 461.5h1M295 461.5h2M381 461.5h3M569 461.5h1M631 461.5h2M133 462.5h1M297 462.5h3M379 462.5h2M570 462.5h1M629 462.5h2M12 463.5h12M132 463.5h1M300 463.5h2M376 463.5h3M571 463.5h1M627 463.5h2M9 464.5h3M24 464.5h3M130 464.5h2M302 464.5h2M373 464.5h3M572 464.5h1M625 464.5h2M8 465.5h1M27 465.5h2M129 465.5h1M304 465.5h1M371 465.5h2M573 465.5h1M623 465.5h2M6 466.5h2M29 466.5h2M128 466.5h1M305 466.5h1M368 466.5h3M574 466.5h2M620 466.5h3M5 467.5h1M31 467.5h2M126 467.5h2M306 467.5h2M364 467.5h4M576 467.5h1M617 467.5h3M33 468.5h3M125 468.5h1M308 468.5h1M360 468.5h4M577 468.5h1M615 468.5h2M36 469.5h4M124 469.5h1M309 469.5h2M356 469.5h4M578 469.5h2M613 469.5h2M40 470.5h3M122 470.5h2M311 470.5h2M353 470.5h3M580 470.5h1M611 470.5h2M43 471.5h2M121 471.5h1M313 471.5h2M351 471.5h2M581 471.5h2M609 471.5h2M45 472.5h1M119 472.5h2M315 472.5h2M348 472.5h3M583 472.5h2M607 472.5h2M46 473.5h2M117 473.5h2M317 473.5h2M345 473.5h3M585 473.5h2M604 473.5h3M48 474.5h1M115 474.5h2M319 474.5h2M343 474.5h2M587 474.5h2M600 474.5h4M49 475.5h3M112 475.5h3M321 475.5h3M340 475.5h3M589 475.5h11M52 476.5h3M100 476.5h12M324 476.5h16M55 477.5h2M92 477.5h8M57 478.5h3M80 478.5h12M60 479.5h20" fill="none" stroke="#ff0000" stroke-width="1"/>
<line x1="6" y1="511.5" x2="1167" y2="511.5" stroke="#c0c0c0" stroke-width="1" stroke-dasharray="3,3"/>
<line x1="6" y1="543.5" x2="1167" y2="543.5" stroke="#c0c0c0" stroke-width="1" stroke-dasharray="3,3"/>
<path d="M13.5 527v2M14.5 529v2M15.5 531v2M16.5 533v2M17.5 535v2M19.5 538v2M35.5 537v2M38.5 536v2M39.5 538v2M40.5 540v2M42.5 540v2M44.5 537v2M83.5 536v2M106.5 529v2M108.5 526v2M111.5 522v2M163.5 514v2M174.5 510v2M175.5 512v2M176.5 514v2M198.5 513v2M200.5 516v2M205.5 520v2M206.5 522v3M207.5 525v3M208.5 528v3M209.5 531v2M229.5 527v2M230.5 529v2M231.5 531v2M232.5 533v2M233.5 535v2M235.5 533v2M290.5 536v2M292.5 539v2M305.5 546v2M306.5 543v3M307.5 541v2M308.5 538v3M309.5 536v2M327.5 530v2M358.5 529v2M360.5 532v2M362.5 532v2M363.5 530v2M364.5 528v2M370.5 528v2M371.5 526v2M372.5 524v2M397.5 519v2M398.5 521v2M399.5 523v2M400.5 525v2M413.5 527v2M414.5 529v2M415.5 531v2M416.5 533v2M417.5 535v2M418.5 533v2M419.5 531v2M420.5 529v2M421.5 527v2M459.5 526v2M462.5 522v2M464.5 519v2M489.5 515v2M490.5 517v2M491.5 519v2M492.5 521v2M533.5 521v2M534.5 523v2M535.5 525v2M536.5 527v2M537.5 529v2M538.5 531v2M539.5 533v2M540.5 535v2M554.5 541v2M555.5 539v2M556.5 537v2M574.5 541v2M575.5 539v2M576.5 537v2M610.5 529v2M612.5 526v2M646.5 517v2M647.5 519v2M648.5 521v2M659.5 517v2M682.5 513v2M683.5 515v2M684.5 517v2M685.5 519v2M686.5 521v2M687.5 523v2M688.5 525v2M705.5 520v2M706.5 522v3M707.5 525v2M708.5 527v3M709.5 530v2M719.5 531v2M727.5 533v2M730.5 534v2M732.5 531v2M798.5 525v2M800.5 522v2M825.5 519v2M826.5 521v2M827.5 523v2M828.5 525v2M849.5 519v2M850.5 517v2M851.5 515v2M852.5 513v2M871.5 513v2M874.5 514v2M876.5 511v2M881.5 509v2M882.5 511v4M883.5 515v4M884.5 519v4M885.5 523v2M901.5 522v2M902.5 520v2M903.5 518v2M904.5 516v2M914.5 516v2M915.5 518v2M916.5 520v2M918.5 523v2M919.5 525v2M920.5 527v2M173 509.5h1M880 509.5h1M172 510.5h1M877 510.5h3M170 511.5h2M860 511.5h4M868 511.5h2M165 512.5h5M185 512.5h7M196 512.5h2M665 512.5h3M680 512.5h2M853 512.5h7M864 512.5h4M870 512.5h1M141 513.5h5M164 513.5h1M183 513.5h2M192 513.5h4M664 513.5h1M668 513.5h4M676 513.5h4M875 513.5h1M909 513.5h2M140 514.5h1M146 514.5h2M181 514.5h2M662 514.5h2M672 514.5h4M907 514.5h2M911 514.5h2M138 515.5h2M148 515.5h1M179 515.5h2M199 515.5h1M517 515.5h7M661 515.5h1M872 515.5h1M905 515.5h2M913 515.5h1M137 516.5h1M149 516.5h2M162 516.5h1M177 516.5h2M487 516.5h2M515 516.5h2M524 516.5h4M641 516.5h5M660 516.5h1M873 516.5h1M136 517.5h1M151 517.5h2M161 517.5h1M473 517.5h3M480 517.5h7M513 517.5h2M528 517.5h2M639 517.5h2M817 517.5h2M134 518.5h2M153 518.5h3M159 518.5h2M201 518.5h2M392 518.5h4M465 518.5h1M472 518.5h1M476 518.5h4M504 518.5h4M511 518.5h2M530 518.5h1M637 518.5h2M816 518.5h1M819 518.5h2M133 519.5h1M156 519.5h3M203 519.5h2M389 519.5h3M396 519.5h1M466 519.5h2M471 519.5h1M500 519.5h4M508 519.5h3M531 519.5h1M636 519.5h1M658 519.5h1M773 519.5h2M815 519.5h1M821 519.5h4M113 520.5h2M132 520.5h1M387 520.5h2M468 520.5h1M470 520.5h1M497 520.5h3M532 520.5h1M625 520.5h1M635 520.5h1M657 520.5h1M704 520.5h1M771 520.5h2M775 520.5h2M814 520.5h1M845 520.5h4M112 521.5h1M115 521.5h2M120 521.5h4M130 521.5h2M377 521.5h10M463 521.5h1M469 521.5h1M496 521.5h1M624 521.5h1M626 521.5h2M634 521.5h1M656 521.5h1M701 521.5h3M768 521.5h3M777 521.5h2M801 521.5h2M809 521.5h5M844 521.5h1M117 522.5h3M124 522.5h6M375 522.5h2M494 522.5h2M623 522.5h1M628 522.5h1M632 522.5h2M654 522.5h2M700 522.5h1M753 522.5h3M760 522.5h8M779 522.5h2M784 522.5h6M803 522.5h2M807 522.5h2M842 522.5h2M917 522.5h1M373 523.5h2M425 523.5h3M493 523.5h1M617 523.5h3M622 523.5h1M629 523.5h3M649 523.5h5M693 523.5h3M698 523.5h2M751 523.5h2M756 523.5h4M781 523.5h3M790 523.5h2M805 523.5h2M833 523.5h9M896 523.5h5M110 524.5h1M424 524.5h1M428 524.5h4M461 524.5h1M615 524.5h2M620 524.5h2M692 524.5h1M696 524.5h2M749 524.5h2M792 524.5h1M799 524.5h1M832 524.5h1M886 524.5h10M109 525.5h1M405 525.5h2M423 525.5h1M432 525.5h7M460 525.5h1M613 525.5h2M691 525.5h1M741 525.5h2M748 525.5h1M793 525.5h2M831 525.5h1M403 526.5h2M407 526.5h2M422 526.5h1M439 526.5h2M690 526.5h1M739 526.5h2M743 526.5h2M746 526.5h2M795 526.5h2M830 526.5h1M9 527.5h4M228 527.5h1M249 527.5h3M256 527.5h4M264 527.5h2M353 527.5h3M365 527.5h1M401 527.5h2M409 527.5h4M441 527.5h2M589 527.5h10M689 527.5h1M737 527.5h2M745 527.5h1M797 527.5h1M829 527.5h1M8 528.5h1M107 528.5h1M225 528.5h3M248 528.5h1M252 528.5h4M260 528.5h4M266 528.5h1M273 528.5h1M329 528.5h15M352 528.5h1M356 528.5h2M366 528.5h2M443 528.5h2M458 528.5h1M588 528.5h1M599 528.5h2M611 528.5h1M736 528.5h1M6 529.5h2M223 529.5h2M246 529.5h2M267 529.5h1M272 529.5h1M274 529.5h2M328 529.5h1M344 529.5h3M351 529.5h1M368 529.5h1M445 529.5h2M456 529.5h2M586 529.5h2M601 529.5h2M721 529.5h2M734 529.5h2M921 529.5h3M5 530.5h1M220 530.5h3M244 530.5h2M268 530.5h1M270 530.5h2M276 530.5h1M347 530.5h2M350 530.5h1M369 530.5h1M447 530.5h2M452 530.5h4M585 530.5h1M603 530.5h2M720 530.5h1M723 530.5h2M733 530.5h1M924 530.5h2M69 531.5h5M104 531.5h2M216 531.5h4M237 531.5h7M269 531.5h1M277 531.5h1M349 531.5h1M359 531.5h1M449 531.5h3M584 531.5h1M605 531.5h5M710 531.5h1M725 531.5h1M68 532.5h1M74 532.5h1M101 532.5h3M210 532.5h6M236 532.5h1M278 532.5h2M326 532.5h1M583 532.5h1M711 532.5h2M726 532.5h1M67 533.5h1M75 533.5h1M100 533.5h1M280 533.5h1M325 533.5h1M582 533.5h1M713 533.5h3M718 533.5h1M731 533.5h1M57 534.5h2M66 534.5h1M76 534.5h1M80 534.5h2M99 534.5h1M281 534.5h3M317 534.5h1M324 534.5h1M361 534.5h1M581 534.5h1M716 534.5h2M37 535.5h1M56 535.5h1M59 535.5h2M64 535.5h2M77 535.5h3M82 535.5h1M98 535.5h1M234 535.5h1M284 535.5h6M316 535.5h1M318 535.5h2M323 535.5h1M579 535.5h2M728 535.5h1M36 536.5h1M45 536.5h7M54 536.5h2M61 536.5h3M92 536.5h6M310 536.5h2M314 536.5h2M320 536.5h1M322 536.5h1M557 536.5h1M577 536.5h2M729 536.5h1M18 537.5h1M52 537.5h2M89 537.5h3M312 537.5h2M321 537.5h1M541 537.5h1M558 537.5h1M29 538.5h2M84 538.5h1M87 538.5h2M291 538.5h1M542 538.5h1M559 538.5h1M28 539.5h1M31 539.5h2M34 539.5h1M43 539.5h1M85 539.5h2M543 539.5h1M560 539.5h1M20 540.5h1M26 540.5h2M33 540.5h1M544 540.5h1M561 540.5h1M21 541.5h5M293 541.5h2M545 541.5h3M562 541.5h2M41 542.5h1M295 542.5h2M548 542.5h4M564 542.5h1M297 543.5h2M552 543.5h2M565 543.5h3M572 543.5h2M299 544.5h2M568 544.5h4M301 545.5h2M303 546.5h2" fill="none" stroke="#1e90ff" stroke-width="1"/>
<rect x="4" y="27" width="1164" height="1" fill="#000"/>
<rect x="4" y="416" width="1164" height="1" fill="#000"/>
<rect x="4" y="418" width="1164" height="1" fill="#000"/>
<rect x="4" y="484" width="1164" height="1" fill="#000"/>
<rect x="4" y="486" width="1164" height="1" fill="#000"/>
<rect x="4" y="568" width="1164" height="1" fill="#000"/>
<rect x="4" y="27" width="1" height="390" fill="#000"/>
<rect x="1167" y="27" width="1" height="390" fill="#000"/>
<rect x="4" y="418" width="1" height="67" fill="#000"/>
<rect x="1167" y="418" width="1" height="67" fill="#000"/>
<rect x="4" y="486" width="1" height="83" fill="#000"/>
<rect x="1167" y="486" width="1" height="83" fill="#000"/>
<rect x="1168" y="50" width="2" height="1" fill="#000"/>
<rect x="1168" y="83" width="2" height="1" fill="#000"/>
<rect x="1168" y="116" width="2" height="1" fill="#000"/>
<rect x="1168" y="149" width="2" height="1" fill="#000"/>
<rect x="1168" y="182" width="2" height="1" fill="#000"/>
<rect x="1168" y="215" width="2" height="1" fill="#000"/>
<rect x="1168" y="248" width="2" height="1" fill="#000"/>
<rect x="1168" y="281" width="2" height="1" fill="#000"/>
<rect x="1168" y="314" width="2" height="1" fill="#000"/>
<rect x="1168" y="347" width="2" height="1" fill="#000"/>
<rect x="1168" y="380" width="2" height="1" fill="#000"/>
<rect x="1168" y="413" width="2" height="1" fill="#000"/>
<rect x="1168" y="420" width="1" height="1" fill="#000"/>
<rect x="1168" y="456" width="1" height="1" fill="#000"/>
<rect x="1168" y="483" width="1" height="1" fill="#000"/>
<rect x="1168" y="488" width="1" height="1" fill="#000"/>
<rect x="1168" y="567" width="1" height="1" fill="#000"/>
<rect x="5" y="569" width="1" height="3" fill="#000"/>
<rect x="69" y="569" width="1" height="3" fill="#000"/>
<rect x="133" y="569" width="1" height="3" fill="#000"/>
<rect x="197" y="569" width="1" height="3" fill="#000"/>
<rect x="261" y="569" width="1" height="3" fill="#000"/>
<rect x="325" y="569" width="1" height="3" fill="#000"/>
<rect x="389" y="569" width="1" height="3" fill="#000"/>
<rect x="453" y="569" width="1" height="3" fill="#000"/>
<rect x="517" y="569" width="1" height="3" fill="#000"/>
<rect x="581" y="569" width="1" height="3" fill="#000"/>
<rect x="645" y="569" width="1" height="3" fill="#000"/>
<rect x="709" y="569" width="1" height="3" fill="#000"/>
<rect x="773" y="569" width="1" height="3" fill="#000"/>
<rect x="837" y="569" width="1" height="3" fill="#000"/>
<rect x="901" y="569" width="1" height="3" fill="#000"/>
<rect x="1169" y="67" width="41" height="11" fill="#ff0000"/>
<rect x="1169" y="111" width="41" height="11" fill="#000000"/>
<rect x="1169" y="129" width="41" height="11" fill="#00ff00"/>
<rect x="1169" y="191" width="41" height="11" fill="#0000ff"/>
<rect x="1169" y="253" width="41" height="11" fill="#0000ff"/>
<polygon points="7.9,38 15.6,38 11.75,33.9" fill="#000" shape-rendering="geometricPrecision"/>
</svg>
<div id="panel-bg" class="abs"></div>
<div id="sell-top" class="btn"></div>
<div id="buy-top" class="btn"></div>
<div id="sell-low" class="btn"></div>
<div id="buy-low" class="btn"></div>
<div id="sell-join" class="abs"></div>
<div id="buy-join" class="abs"></div>
<div class="uline" style="left:12px;top:70px;width:44px"></div>
<div class="uline2" style="left:12px;top:71px;width:44px"></div>
<div class="uline" style="left:179px;top:70px;width:44px"></div>
<div class="uline2" style="left:179px;top:71px;width:44px"></div>
<div id="spin" class="abs"></div>
<div id="sdn" class="sbtn"></div>
<div id="sup" class="sbtn"></div>
<div id="adn" class="abs"></div>
<div id="aup" class="abs"></div>
<div class="t" style="left:1172.79px;top:69.00px;font-size:9.9px;color:#fff;transform:scaleX(0.9438);">119.007</div>
<div class="t" style="left:1172.79px;top:113.00px;font-size:9.9px;color:#fff;transform:scaleX(0.9438);">116.238</div>
<div class="t" style="left:1172.79px;top:131.00px;font-size:9.9px;color:#fff;transform:scaleX(0.9438);">115.021</div>
<div class="t" style="left:1172.79px;top:193.00px;font-size:9.9px;color:#fff;transform:scaleX(0.9438);">111.024</div>
<div class="t" style="left:1172.79px;top:255.00px;font-size:9.9px;color:#fff;transform:scaleX(0.9438);">107.026</div>
<div class="t" style="left:1172.79px;top:47.00px;font-size:9.9px;color:#000;transform:scaleX(0.9438);">120.540</div>
<div class="t" style="left:1172.79px;top:80.00px;font-size:9.9px;color:#000;transform:scaleX(0.9438);">118.380</div>
<div class="t" style="left:1172.79px;top:146.00px;font-size:9.9px;color:#000;transform:scaleX(0.9438);">114.120</div>
<div class="t" style="left:1172.79px;top:179.00px;font-size:9.9px;color:#000;transform:scaleX(0.9438);">112.020</div>
<div class="t" style="left:1172.79px;top:212.00px;font-size:9.9px;color:#000;transform:scaleX(0.9438);">109.860</div>
<div class="t" style="left:1172.79px;top:245.00px;font-size:9.9px;color:#000;transform:scaleX(0.9438);">107.760</div>
<div class="t" style="left:1172.79px;top:278.00px;font-size:9.9px;color:#000;transform:scaleX(0.9438);">105.600</div>
<div class="t" style="left:1172.79px;top:311.00px;font-size:9.9px;color:#000;transform:scaleX(0.9438);">103.500</div>
<div class="t" style="left:1172.79px;top:344.00px;font-size:9.9px;color:#000;transform:scaleX(0.9438);">101.400</div>
<div class="t" style="left:1173.07px;top:377.00px;font-size:9.9px;color:#000;transform:scaleX(0.9438);">99.240</div>
<div class="t" style="left:1173.07px;top:410.00px;font-size:9.9px;color:#000;transform:scaleX(0.9438);">97.140</div>
<div class="t" style="left:1170.94px;top:422.00px;font-size:9.9px;color:#000;transform:scaleX(0.9300);">2.7138</div>
<div class="t" style="left:1170.83px;top:453.00px;font-size:9.9px;color:#000;transform:scaleX(0.9620);">0.00</div>
<div class="t" style="left:1171.00px;top:474.00px;font-size:9.9px;color:#000;transform:scaleX(0.9202);">-2.0293</div>
<div class="t" style="left:1171.13px;top:490.00px;font-size:9.9px;color:#000;transform:scaleX(0.8970);">100</div>
<div class="t" style="left:1170.75px;top:508.00px;font-size:9.9px;color:#000;transform:scaleX(0.8985);">70</div>
<div class="t" style="left:1170.87px;top:540.00px;font-size:9.9px;color:#000;transform:scaleX(0.8873);">30</div>
<div class="t" style="left:1171.04px;top:558.00px;font-size:9.9px;color:#000;transform:scaleX(0.9438);">0</div>
<div class="t" style="left:8.63px;top:424.00px;font-size:9.9px;color:#000;transform:scaleX(0.9539);">MACD(12,26,9) 0.7529 1.0309</div>
<div class="t" style="left:8.63px;top:492.00px;font-size:9.9px;color:#000;transform:scaleX(0.9439);">RSI(14) 48.5393</div>
<div class="t" style="left:19.04px;top:32.00px;font-size:9.9px;color:#000;transform:scaleX(0.9954);">UKOil-,H4</div>
<div class="t" style="left:68.68px;top:32.00px;font-size:9.9px;color:#000;transform:scaleX(0.9588);">116.086 116.314 115.811 116.238</div>
<div class="t" style="left:3.52px;top:574.00px;font-size:9.9px;color:#000;transform:scaleX(0.9724);">6 Apr 2022</div>
<div class="t" style="left:67.59px;top:574.00px;font-size:9.9px;color:#000;transform:scaleX(0.9724);">8 Apr 16:00</div>
<div class="t" style="left:131.27px;top:574.00px;font-size:9.9px;color:#000;transform:scaleX(0.9724);">13 Apr 08:00</div>
<div class="t" style="left:195.27px;top:574.00px;font-size:9.9px;color:#000;transform:scaleX(0.9724);">19 Apr 00:00</div>
<div class="t" style="left:259.52px;top:574.00px;font-size:9.9px;color:#000;transform:scaleX(0.9724);">21 Apr 16:00</div>
<div class="t" style="left:323.52px;top:574.00px;font-size:9.9px;color:#000;transform:scaleX(0.9724);">26 Apr 08:00</div>
<div class="t" style="left:387.52px;top:574.00px;font-size:9.9px;color:#000;transform:scaleX(0.9724);">29 Apr 04:00</div>
<div class="t" style="left:451.63px;top:574.00px;font-size:9.9px;color:#000;transform:scaleX(0.9724);">3 May 20:00</div>
<div class="t" style="left:515.52px;top:574.00px;font-size:9.9px;color:#000;transform:scaleX(0.9724);">6 May 12:00</div>
<div class="t" style="left:579.27px;top:574.00px;font-size:9.9px;color:#000;transform:scaleX(0.9724);">11 May 04:00</div>
<div class="t" style="left:643.27px;top:574.00px;font-size:9.9px;color:#000;transform:scaleX(0.9724);">13 May 20:00</div>
<div class="t" style="left:707.27px;top:574.00px;font-size:9.9px;color:#000;transform:scaleX(0.9724);">18 May 12:00</div>
<div class="t" style="left:771.52px;top:574.00px;font-size:9.9px;color:#000;transform:scaleX(0.9724);">23 May 04:00</div>
<div class="t" style="left:835.52px;top:574.00px;font-size:9.9px;color:#000;transform:scaleX(0.9724);">25 May 20:00</div>
<div class="t" style="left:899.63px;top:574.00px;font-size:9.9px;color:#000;transform:scaleX(0.9724);">30 May 16:00</div>
<div class="t" style="left:15.70px;top:8.00px;font-size:9.9px;color:#444444;transform:scaleX(0.9852);">M30</div>
<div class="t" style="left:46.74px;top:8.00px;font-size:9.9px;color:#444444;transform:scaleX(1.0647);">H1</div>
<div class="t" style="left:73.74px;top:8.00px;font-size:9.9px;color:#444444;transform:scaleX(1.0560);">H4</div>
<div class="t" style="left:102.76px;top:8.00px;font-size:9.9px;color:#444444;transform:scaleX(1.0383);">D1</div>
<div class="t" style="left:130.96px;top:8.00px;font-size:9.9px;color:#444444;transform:scaleX(0.9766);">W1</div>
<div class="t" style="left:156.94px;top:8.00px;font-size:9.9px;color:#444444;transform:scaleX(1.0594);">MN</div>
<div class="t" style="left:-4.36px;top:8.00px;font-size:9.9px;color:#444444;transform:scaleX(1.0050);">15</div>
<div class="t" style="left:16.20px;top:596.00px;font-size:12px;color:#7a7a7a;transform:scaleX(1.0112);">EURUSD-,Daily</div>
<div class="t" style="left:123.98px;top:596.00px;font-size:12px;color:#7a7a7a;transform:scaleX(1.0281);">AUDUSD-,Daily</div>
<div class="t" style="left:233.07px;top:596.00px;font-size:12px;color:#7a7a7a;transform:scaleX(1.0042);">USDCHF-,Daily</div>
<div class="t" style="left:340.06px;top:596.00px;font-size:12px;color:#7a7a7a;transform:scaleX(1.0200);">USDCAD-,Daily</div>
<div class="t" style="left:448.64px;top:596.00px;font-size:12px;color:#7a7a7a;transform:scaleX(1.0357);">USDCNH-,Daily</div>
<div class="t" style="left:560.73px;top:596.00px;font-size:12px;color:#7a7a7a;transform:scaleX(1.0323);">XAUUSD-,H4</div>
<div class="t" style="left:656.01px;top:596.00px;font-size:12px;color:#7a7a7a;transform:scaleX(1.0696);">UKOil-,H4</div>
<div class="t" style="left:736.82px;top:596.00px;font-size:12px;color:#7a7a7a;transform:scaleX(1.0591);">USOil-,Daily</div>
<div class="t" style="left:827.77px;top:596.00px;font-size:12px;color:#7a7a7a;transform:scaleX(1.0463);">HK50-,H1</div>
<div class="t" style="left:903.43px;top:596.00px;font-size:12px;color:#7a7a7a;transform:scaleX(0.9858);">EURCHF-,H1</div>
<div class="t" style="left:997.03px;top:596.00px;font-size:12px;color:#7a7a7a;transform:scaleX(1.0526);">USOil-,H4</div>
<div class="t" style="left:1076.51px;top:596.00px;font-size:12px;color:#000;transform:scaleX(1.0715);">UKOil-,H4</div>
<div class="t" style="left:19.62px;top:54.00px;font-size:11.6px;color:#fff;transform:scaleX(0.9283);">SELL</div>
<div class="t" style="left:187.54px;top:54.00px;font-size:11.6px;color:#fff;transform:scaleX(1.0069);">BUY</div>
<div class="t" style="left:123.89px;top:53.00px;font-size:11.8px;color:#000;transform:scaleX(1.0399);">2.00</div>
<div class="t" style="left:30.46px;top:89.00px;font-size:12.5px;color:#fff;font-weight:bold;transform:scaleX(1.0871);">116</div>
<div class="t" style="left:140.65px;top:89.00px;font-size:12.5px;color:#fff;font-weight:bold;transform:scaleX(1.0923);">116</div>
<div class="t" style="left:54.04px;top:71.00px;font-size:34px;color:#fff;-webkit-text-stroke:0.9px #c41616;transform:scaleX(0.9785);">23</div>
<div class="t" style="left:165.65px;top:71.00px;font-size:34px;color:#fff;-webkit-text-stroke:0.9px #c41616;transform:scaleX(0.9681);">35</div>
<div class="t" style="left:94.17px;top:74.00px;font-size:11.6px;color:#fff;transform:scaleX(1.2656);">8</div>
<div class="t" style="left:205.57px;top:74.00px;font-size:11.6px;color:#fff;transform:scaleX(1.2656);">8</div>
</body>
</html>
